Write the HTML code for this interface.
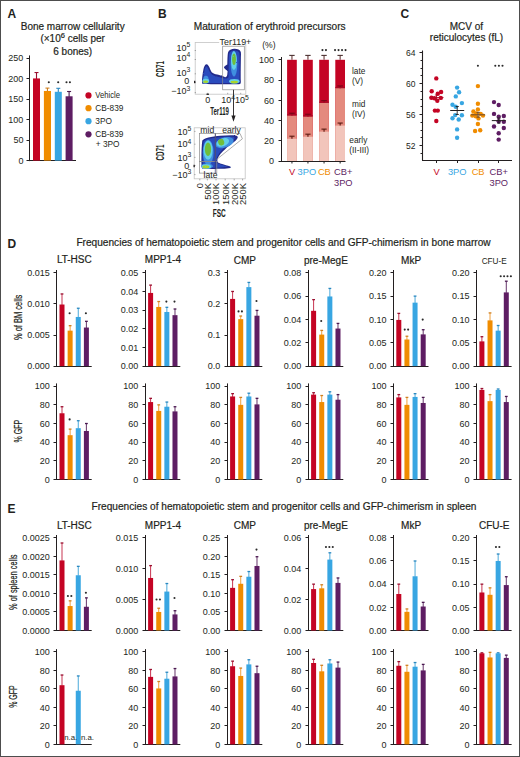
<!DOCTYPE html>
<html><head><meta charset="utf-8"><style>
html,body{margin:0;padding:0;background:#fff;}
svg{display:block;}
text{font-family:"Liberation Sans",sans-serif;}
</style></head><body>
<svg width="520" height="757" viewBox="0 0 520 757">
<rect width="520" height="757" fill="#fff"/>
<defs><filter id="fb" x="-20%" y="-20%" width="140%" height="140%"><feTurbulence type="fractalNoise" baseFrequency="0.9" numOctaves="2" seed="3" result="n"/><feDisplacementMap in="SourceGraphic" in2="n" scale="1.6" xChannelSelector="R" yChannelSelector="G" result="d"/><feGaussianBlur in="d" stdDeviation="0.4"/></filter><filter id="fb2" x="-30%" y="-30%" width="160%" height="160%"><feGaussianBlur stdDeviation="0.7"/></filter></defs>
<rect x="195.2" y="42.4" width="50.6" height="51.8" fill="none" stroke="#c4c4c4" stroke-width="0.8"/>
<g filter="url(#fb)">
<path fill="#222c8c" d="M202.2,83.8 C201.6,80 202.6,74 203.4,69.5 C204,66.6 204.9,64.6 206.3,64.2 C207.4,64 208,64.9 208.8,66.2 C209.7,67.8 210.6,70.3 211.7,72.2 C213.1,73.5 215.1,74.1 217.3,74.6 C220,75.3 222.8,76.2 224.6,77 C225.8,77.6 226.9,76.8 227.3,74.5 L227.6,71.2 C226.6,70 224.6,68.6 223.9,67.4 C224.2,65.8 226.3,65.4 227.3,64.5 C227.4,60 227.5,55 228,52.4 C228.8,50 231.5,48.8 234.5,48.8 C237.5,48.8 240.2,49.8 240.8,52 C241.1,54 241,55 240.9,57 C240.8,64 240.7,72 240.7,79 C240.8,81.5 241.2,83 240.2,83.9 C236,84.4 230,84.2 226,84.2 C218,84.2 208,84.5 202.2,83.8 Z"/>
<path fill="#2c4cbd" d="M203.5,82.8 C203,79 203.8,74 204.5,70.5 C205,68 205.7,66.6 206.5,66.5 C207.3,66.6 208,68.3 209,70.5 C210,72.6 211.2,74.2 213.6,75.4 C216.5,76.6 220.5,77.4 224.4,78.4 C226.2,78.9 227.7,78.6 228.6,77 C228.8,70 228.6,60 229.1,54 C229.6,51.6 231.8,50.4 234.4,50.4 C237,50.4 238.9,51.2 239.4,53 C239.8,55 239.6,68 239.5,82.8 C234,83.2 226,83.1 218,83.1 C212,83.1 207,83.1 203.5,82.8 Z"/>
<ellipse cx="234" cy="64" rx="3.3" ry="12.5" fill="#3f8fe0"/>
<ellipse cx="205.9" cy="79.6" rx="2.7" ry="3.8" fill="#3f8fe0"/>
<ellipse cx="233.9" cy="60.5" rx="2.9" ry="9.5" fill="#63cfe8"/>
<ellipse cx="234.3" cy="81.3" rx="5.2" ry="2.3" fill="#63cfe8"/>
<ellipse cx="205.8" cy="81" rx="3.4" ry="2.3" fill="#63cfe8"/>
<ellipse cx="234" cy="59.3" rx="1.9" ry="5.8" fill="#6fbe3a"/>
<ellipse cx="234.3" cy="82.1" rx="3.7" ry="1.3" fill="#a9d52a"/>
<ellipse cx="205.6" cy="81.8" rx="2.5" ry="1.3" fill="#a9d52a"/>
</g>
<rect x="222.7" y="46.2" width="21.6" height="43.6" fill="none" stroke="#8a8a8a" stroke-width="0.7"/>
<rect x="219.2" y="37.5" width="33" height="6.5" fill="#fff"/>
<text x="219.6" y="44.7" font-size="8.9" text-anchor="start" fill="#231f20" >Ter119+</text>
<line x1="194.7" y1="50.5" x2="196" y2="50.5" stroke="#777" stroke-width="0.6"/>
<line x1="194.7" y1="59.5" x2="196" y2="59.5" stroke="#777" stroke-width="0.6"/>
<line x1="194.7" y1="73.8" x2="196" y2="73.8" stroke="#777" stroke-width="0.6"/>
<line x1="194.7" y1="82.3" x2="196" y2="82.3" stroke="#777" stroke-width="0.6"/>
<line x1="194.7" y1="92.6" x2="196" y2="92.6" stroke="#777" stroke-width="0.6"/>
<rect x="194" y="80.8" width="1.3" height="2.4" fill="#231f20"/>
<line x1="207.7" y1="94.2" x2="207.7" y2="92.8" stroke="#777" stroke-width="0.6"/>
<line x1="227.7" y1="94.2" x2="227.7" y2="92.8" stroke="#777" stroke-width="0.6"/>
<line x1="240.7" y1="94.2" x2="240.7" y2="92.8" stroke="#777" stroke-width="0.6"/>
<rect x="206.5" y="93.6" width="2.4" height="1.3" fill="#231f20"/>
<text x="190.2" y="51.2" font-size="9" text-anchor="end" fill="#231f20">10<tspan font-size="6.8" dy="-3.8">5</tspan></text>
<text x="190.2" y="61" font-size="9" text-anchor="end" fill="#231f20">10<tspan font-size="6.8" dy="-3.8">4</tspan></text>
<text x="190.2" y="75.6" font-size="9" text-anchor="end" fill="#231f20">10<tspan font-size="6.8" dy="-3.8">3</tspan></text>
<text x="189.2" y="83.6" font-size="9" text-anchor="end" fill="#231f20" >0</text>
<text x="190.2" y="94.4" font-size="9" text-anchor="end" fill="#231f20">−10<tspan font-size="6.8" dy="-3.8">3</tspan></text>
<text x="207.8" y="103.4" font-size="9" text-anchor="middle" fill="#231f20" >0</text>
<text x="221.2" y="103.4" font-size="9" text-anchor="start" fill="#231f20">10<tspan font-size="6.8" dy="-3.8">4</tspan></text>
<text x="235.1" y="103.4" font-size="9" text-anchor="start" fill="#231f20">10<tspan font-size="6.8" dy="-3.8">5</tspan></text>
<text x="219.6" y="114.6" font-size="10" font-weight="bold" text-anchor="middle" fill="#231f20" textLength="18.8" lengthAdjust="spacingAndGlyphs">Ter119</text>
<line x1="233.5" y1="89.8" x2="233.5" y2="117" stroke="#231f20" stroke-width="0.9"/>
<path d="M231.4,115.6 L235.6,115.6 L233.5,121.7 Z" fill="#231f20"/>
<text x="0" y="0" font-size="10" font-weight="bold" text-anchor="middle" fill="#231f20" textLength="15.9" lengthAdjust="spacingAndGlyphs" transform="translate(164,69) rotate(-90)">CD71</text>
<rect x="194.2" y="127.8" width="51" height="51" fill="none" stroke="#c4c4c4" stroke-width="0.8"/>
<g filter="url(#fb)">
<path fill="#222c8c" d="M202.3,140.6 C204,138.2 207.5,137.4 211,136.9 C216,136 224,135.4 231,135.3 C234.5,135.3 237.6,135.6 237.8,137.2 C237.6,139.2 234.6,141.6 232,143.6 C229.5,145.6 227.2,147.4 225.4,148.9 C223.4,150.7 221.8,152.2 220.6,153.7 C219.2,155.4 218.2,157 217.6,158.8 C217.2,160.2 217.2,161.6 218,162.4 C220.5,163.6 225,164.8 229,166 C231,166.6 231.4,167.4 230.2,168 C226,168.8 219,168.9 212,168.9 C207,168.9 204,168.9 202,168.6 C201.4,166 201.3,162 201.4,158 C201.5,152 201.6,145 202.3,140.6 Z"/>
<path fill="#2c4cbd" d="M203.4,141.8 C205,139.6 208.5,138.8 212,138.3 C217,137.4 224,136.8 230,136.8 C233,136.8 235,137.1 234.6,138.6 C233.2,140.6 230.6,142.6 228,144.6 C225,147 222.5,149.4 220.6,151.6 C218.6,154 217.2,156.5 216.6,159 C216.3,160.8 216.6,162.3 217.6,163.2 C220.5,164.6 224.4,165.4 227.6,166.6 C224,167.6 218,167.8 212,167.8 C208,167.8 205,167.8 203,167.6 C202.6,162 202.6,150 203.4,141.8 Z"/>
<ellipse cx="208.2" cy="152.5" rx="5.4" ry="12.5" fill="#3f8fe0"/>
<ellipse cx="224.5" cy="142.6" rx="9.5" ry="5.0" fill="#3f8fe0" transform="rotate(-18 224.5 142.6)"/>
<ellipse cx="207" cy="166.2" rx="5.8" ry="2.7" fill="#3f8fe0"/>
<ellipse cx="208.1" cy="150.2" rx="4.5" ry="9.6" fill="#63cfe8"/>
<ellipse cx="222.8" cy="142.4" rx="6.6" ry="3.9" fill="#63cfe8" transform="rotate(-22 222.8 142.4)"/>
<ellipse cx="206.4" cy="166.4" rx="4.7" ry="2.2" fill="#63cfe8"/>
<ellipse cx="208" cy="149.2" rx="3.1" ry="6.8" fill="#6fbe3a"/>
<ellipse cx="221.2" cy="142.2" rx="3.0" ry="3.3" fill="#6fbe3a" transform="rotate(-20 221.2 142.2)"/>
<ellipse cx="205.9" cy="166.8" rx="3.5" ry="1.6" fill="#a9d52a"/>
</g>
<rect x="199.4" y="133.5" width="15.9" height="28" fill="none" stroke="#8a8a8a" stroke-width="0.7"/>
<rect x="199.4" y="161.5" width="17.4" height="11.6" fill="none" stroke="#8a8a8a" stroke-width="0.7"/>
<path d="M215.3,133.5 L240,133.5 L242.4,138.8 L216.6,159.5" fill="none" stroke="#8a8a8a" stroke-width="0.7"/>
<line x1="215.3" y1="133.5" x2="215.3" y2="173" stroke="#33336a" stroke-width="0.7"/>
<text x="207.3" y="132.8" font-size="8.6" text-anchor="middle" fill="#231f20" >mid</text>
<text x="231.5" y="132.8" font-size="8.6" text-anchor="middle" fill="#231f20" >early</text>
<text x="210.5" y="177.9" font-size="8.6" text-anchor="middle" fill="#231f20" >late</text>
<line x1="194.2" y1="131.4" x2="195.5" y2="131.4" stroke="#777" stroke-width="0.6"/>
<line x1="194.2" y1="144.2" x2="195.5" y2="144.2" stroke="#777" stroke-width="0.6"/>
<line x1="194.2" y1="157.4" x2="195.5" y2="157.4" stroke="#777" stroke-width="0.6"/>
<line x1="194.2" y1="165.5" x2="195.5" y2="165.5" stroke="#777" stroke-width="0.6"/>
<line x1="194.2" y1="174.6" x2="195.5" y2="174.6" stroke="#777" stroke-width="0.6"/>
<rect x="193.5" y="164.8" width="1.3" height="2.4" fill="#231f20"/>
<text x="191.3" y="134.6" font-size="9" text-anchor="end" fill="#231f20">10<tspan font-size="6.8" dy="-3.8">5</tspan></text>
<text x="191.3" y="147.4" font-size="9" text-anchor="end" fill="#231f20">10<tspan font-size="6.8" dy="-3.8">4</tspan></text>
<text x="191.3" y="160.6" font-size="9" text-anchor="end" fill="#231f20">10<tspan font-size="6.8" dy="-3.8">3</tspan></text>
<text x="189.2" y="168.7" font-size="9" text-anchor="end" fill="#231f20" >0</text>
<text x="191.3" y="178.2" font-size="9" text-anchor="end" fill="#231f20">−10<tspan font-size="6.8" dy="-3.8">3</tspan></text>
<text x="0" y="0" font-size="9.4" text-anchor="end" fill="#231f20" transform="translate(203.10,183.0) rotate(-90)">0</text>
<line x1="199.8" y1="178.8" x2="199.8" y2="180.4" stroke="#777" stroke-width="0.6"/>
<text x="0" y="0" font-size="9.4" text-anchor="end" fill="#231f20" transform="translate(210.70,183.0) rotate(-90)">50K</text>
<line x1="207.4" y1="178.8" x2="207.4" y2="180.4" stroke="#777" stroke-width="0.6"/>
<text x="0" y="0" font-size="9.4" text-anchor="end" fill="#231f20" transform="translate(219.30,183.0) rotate(-90)">100K</text>
<line x1="216" y1="178.8" x2="216" y2="180.4" stroke="#777" stroke-width="0.6"/>
<text x="0" y="0" font-size="9.4" text-anchor="end" fill="#231f20" transform="translate(228.50,183.0) rotate(-90)">150K</text>
<line x1="225.2" y1="178.8" x2="225.2" y2="180.4" stroke="#777" stroke-width="0.6"/>
<text x="0" y="0" font-size="9.4" text-anchor="end" fill="#231f20" transform="translate(237.50,183.0) rotate(-90)">200K</text>
<line x1="234.2" y1="178.8" x2="234.2" y2="180.4" stroke="#777" stroke-width="0.6"/>
<text x="0" y="0" font-size="9.4" text-anchor="end" fill="#231f20" transform="translate(245.90,183.0) rotate(-90)">250K</text>
<line x1="242.6" y1="178.8" x2="242.6" y2="180.4" stroke="#777" stroke-width="0.6"/>
<text x="219.3" y="216.9" font-size="10" font-weight="bold" text-anchor="middle" fill="#231f20" textLength="13" lengthAdjust="spacingAndGlyphs">FSC</text>
<text x="0" y="0" font-size="10" font-weight="bold" text-anchor="middle" fill="#231f20" textLength="15.9" lengthAdjust="spacingAndGlyphs" transform="translate(164,152.5) rotate(-90)">CD71</text>
<rect x="0.5" y="0.5" width="519" height="756" fill="none" stroke="#4d4d4d" stroke-width="1"/>
<text x="7.50" y="18.00" font-size="12" text-anchor="start" fill="#231f20" font-weight="bold" >A</text>
<text x="72.70" y="29.50" font-size="10" text-anchor="middle" fill="#231f20" stroke="#231f20" stroke-width="0.2" >Bone marrow cellularity</text>
<text x="72.70" y="42.00" font-size="10" text-anchor="middle" fill="#231f20" stroke="#231f20" stroke-width="0.2" >(×10<tspan font-size="7.5" dy="-4">6</tspan><tspan dy="4"> cells per</tspan></text>
<text x="72.70" y="54.50" font-size="10" text-anchor="middle" fill="#231f20" stroke="#231f20" stroke-width="0.2" >6 bones)</text>
<line x1="29.50" y1="55.40" x2="29.50" y2="161.10" stroke="#231f20" stroke-width="1.05"/>
<line x1="26.50" y1="58.50" x2="29.50" y2="58.50" stroke="#231f20" stroke-width="1.0"/>
<text x="23.40" y="61.44" font-size="9" text-anchor="end" fill="#231f20" >250</text>
<line x1="26.50" y1="78.50" x2="29.50" y2="78.50" stroke="#231f20" stroke-width="1.0"/>
<text x="23.40" y="81.92" font-size="9" text-anchor="end" fill="#231f20" >200</text>
<line x1="26.50" y1="99.50" x2="29.50" y2="99.50" stroke="#231f20" stroke-width="1.0"/>
<text x="23.40" y="102.40" font-size="9" text-anchor="end" fill="#231f20" >150</text>
<line x1="26.50" y1="119.50" x2="29.50" y2="119.50" stroke="#231f20" stroke-width="1.0"/>
<text x="23.40" y="122.88" font-size="9" text-anchor="end" fill="#231f20" >100</text>
<line x1="26.50" y1="140.50" x2="29.50" y2="140.50" stroke="#231f20" stroke-width="1.0"/>
<text x="23.40" y="143.36" font-size="9" text-anchor="end" fill="#231f20" >50</text>
<line x1="26.50" y1="160.50" x2="29.50" y2="160.50" stroke="#231f20" stroke-width="1.0"/>
<text x="23.40" y="163.84" font-size="9" text-anchor="end" fill="#231f20" >0</text>
<line x1="27.00" y1="160.50" x2="76.00" y2="160.50" stroke="#231f20" stroke-width="1.1"/>
<line x1="36.50" y1="72.54" x2="36.50" y2="79.43" stroke="#9a1030" stroke-width="1.1"/>
<line x1="34.50" y1="72.54" x2="38.50" y2="72.54" stroke="#9a1030" stroke-width="1.1"/>
<rect x="33.00" y="78.43" width="7.00" height="82.17" fill="#c40424"/>
<line x1="47.45" y1="88.10" x2="47.45" y2="91.97" stroke="#d08020" stroke-width="1.1"/>
<line x1="45.45" y1="88.10" x2="49.45" y2="88.10" stroke="#d08020" stroke-width="1.1"/>
<rect x="43.90" y="90.97" width="7.10" height="69.63" fill="#f08c00"/>
<line x1="58.30" y1="88.31" x2="58.30" y2="92.79" stroke="#2a88c0" stroke-width="1.1"/>
<line x1="56.30" y1="88.31" x2="60.30" y2="88.31" stroke="#2a88c0" stroke-width="1.1"/>
<rect x="54.80" y="91.79" width="7.00" height="68.81" fill="#38a6e2"/>
<line x1="69.10" y1="91.50" x2="69.10" y2="97.29" stroke="#4a1850" stroke-width="1.1"/>
<line x1="67.10" y1="91.50" x2="71.10" y2="91.50" stroke="#4a1850" stroke-width="1.1"/>
<rect x="65.60" y="96.29" width="7.00" height="64.31" fill="#5e1d63"/>
<circle cx="48.80" cy="82.20" r="1.05" fill="#2a2a2a"/>
<circle cx="58.20" cy="82.20" r="1.05" fill="#2a2a2a"/>
<circle cx="66.50" cy="82.20" r="1.05" fill="#2a2a2a"/>
<circle cx="69.90" cy="82.20" r="1.05" fill="#2a2a2a"/>
<circle cx="88.50" cy="95.40" r="3.1" fill="#c40424"/>
<text x="95.30" y="98.30" font-size="8.3" text-anchor="start" fill="#231f20" textLength="24.8" lengthAdjust="spacingAndGlyphs">Vehicle</text>
<circle cx="88.50" cy="108.20" r="3.1" fill="#f08c00"/>
<text x="95.30" y="111.10" font-size="8.3" text-anchor="start" fill="#231f20" >CB-839</text>
<circle cx="88.50" cy="121.20" r="3.1" fill="#38a6e2"/>
<text x="95.30" y="124.10" font-size="8.3" text-anchor="start" fill="#231f20" >3PO</text>
<circle cx="88.50" cy="134.30" r="3.1" fill="#5e1d63"/>
<text x="95.30" y="137.20" font-size="8.3" text-anchor="start" fill="#231f20" >CB-839</text>
<text x="95.80" y="147.00" font-size="8.3" text-anchor="start" fill="#231f20" >+ 3PO</text>
<text x="158.00" y="18.00" font-size="12" text-anchor="start" fill="#231f20" font-weight="bold" >B</text>
<text x="269.70" y="30.30" font-size="10.15" text-anchor="middle" fill="#231f20" stroke="#231f20" stroke-width="0.2" >Maturation of erythroid precursors</text>
<line x1="281.50" y1="57.00" x2="281.50" y2="161.50" stroke="#231f20" stroke-width="1.05"/>
<line x1="278.50" y1="59.50" x2="281.50" y2="59.50" stroke="#231f20" stroke-width="1.0"/>
<text x="274.10" y="63.04" font-size="9" text-anchor="end" fill="#231f20" >100</text>
<line x1="278.50" y1="80.50" x2="281.50" y2="80.50" stroke="#231f20" stroke-width="1.0"/>
<text x="274.10" y="83.28" font-size="9" text-anchor="end" fill="#231f20" >80</text>
<line x1="278.50" y1="100.50" x2="281.50" y2="100.50" stroke="#231f20" stroke-width="1.0"/>
<text x="274.10" y="103.52" font-size="9" text-anchor="end" fill="#231f20" >60</text>
<line x1="278.50" y1="120.50" x2="281.50" y2="120.50" stroke="#231f20" stroke-width="1.0"/>
<text x="274.10" y="123.76" font-size="9" text-anchor="end" fill="#231f20" >40</text>
<line x1="278.50" y1="140.50" x2="281.50" y2="140.50" stroke="#231f20" stroke-width="1.0"/>
<text x="274.10" y="144.00" font-size="9" text-anchor="end" fill="#231f20" >20</text>
<line x1="278.50" y1="161.50" x2="281.50" y2="161.50" stroke="#231f20" stroke-width="1.0"/>
<text x="274.10" y="164.24" font-size="9" text-anchor="end" fill="#231f20" >0</text>
<line x1="281.00" y1="161.50" x2="345.50" y2="161.50" stroke="#231f20" stroke-width="1.1"/>
<text x="268.90" y="48.00" font-size="8.6" text-anchor="middle" fill="#231f20" >(%)</text>
<rect x="287.10" y="59.80" width="9.70" height="101.20" fill="#c40424"/>
<rect x="287.10" y="115.46" width="9.70" height="45.54" fill="#e48a7e"/>
<rect x="287.10" y="138.74" width="9.70" height="22.26" fill="#f2c5bb"/>
<line x1="291.95" y1="55.40" x2="291.95" y2="59.80" stroke="#6a3a3a" stroke-width="1.1"/>
<line x1="289.25" y1="55.40" x2="294.65" y2="55.40" stroke="#4a3030" stroke-width="1.1"/>
<line x1="289.15" y1="113.26" x2="294.75" y2="113.26" stroke="#7a0818" stroke-width="1.2"/>
<line x1="291.95" y1="113.26" x2="291.95" y2="115.46" stroke="#7a0818" stroke-width="1.2"/>
<rect x="287.10" y="114.26" width="9.70" height="1.20" fill="#a80a26"/>
<line x1="289.35" y1="136.21" x2="294.55" y2="136.21" stroke="#5a1a10" stroke-width="1.1"/>
<line x1="291.95" y1="136.21" x2="291.95" y2="138.74" stroke="#5a1a10" stroke-width="1.1"/>
<line x1="291.95" y1="161.00" x2="291.95" y2="163.50" stroke="#231f20" stroke-width="1"/>
<rect x="303.10" y="59.80" width="9.70" height="101.20" fill="#c40424"/>
<rect x="303.10" y="116.47" width="9.70" height="44.53" fill="#e48a7e"/>
<rect x="303.10" y="136.71" width="9.70" height="24.29" fill="#f2c5bb"/>
<line x1="307.95" y1="55.40" x2="307.95" y2="59.80" stroke="#6a3a3a" stroke-width="1.1"/>
<line x1="305.25" y1="55.40" x2="310.65" y2="55.40" stroke="#4a3030" stroke-width="1.1"/>
<line x1="305.15" y1="114.27" x2="310.75" y2="114.27" stroke="#7a0818" stroke-width="1.2"/>
<line x1="307.95" y1="114.27" x2="307.95" y2="116.47" stroke="#7a0818" stroke-width="1.2"/>
<rect x="303.10" y="115.27" width="9.70" height="1.20" fill="#a80a26"/>
<line x1="305.35" y1="134.18" x2="310.55" y2="134.18" stroke="#5a1a10" stroke-width="1.1"/>
<line x1="307.95" y1="134.18" x2="307.95" y2="136.71" stroke="#5a1a10" stroke-width="1.1"/>
<line x1="307.95" y1="161.00" x2="307.95" y2="163.50" stroke="#231f20" stroke-width="1"/>
<rect x="319.20" y="59.80" width="9.70" height="101.20" fill="#c40424"/>
<rect x="319.20" y="102.81" width="9.70" height="58.19" fill="#e48a7e"/>
<rect x="319.20" y="131.65" width="9.70" height="29.35" fill="#f2c5bb"/>
<line x1="324.05" y1="55.40" x2="324.05" y2="59.80" stroke="#6a3a3a" stroke-width="1.1"/>
<line x1="321.35" y1="55.40" x2="326.75" y2="55.40" stroke="#4a3030" stroke-width="1.1"/>
<line x1="321.25" y1="100.61" x2="326.85" y2="100.61" stroke="#7a0818" stroke-width="1.2"/>
<line x1="324.05" y1="100.61" x2="324.05" y2="102.81" stroke="#7a0818" stroke-width="1.2"/>
<rect x="319.20" y="101.61" width="9.70" height="1.20" fill="#a80a26"/>
<line x1="321.45" y1="129.12" x2="326.65" y2="129.12" stroke="#5a1a10" stroke-width="1.1"/>
<line x1="324.05" y1="129.12" x2="324.05" y2="131.65" stroke="#5a1a10" stroke-width="1.1"/>
<line x1="324.05" y1="161.00" x2="324.05" y2="163.50" stroke="#231f20" stroke-width="1"/>
<rect x="335.30" y="59.80" width="9.70" height="101.20" fill="#c40424"/>
<rect x="335.30" y="88.14" width="9.70" height="72.86" fill="#e48a7e"/>
<rect x="335.30" y="125.58" width="9.70" height="35.42" fill="#f2c5bb"/>
<line x1="340.15" y1="55.40" x2="340.15" y2="59.80" stroke="#6a3a3a" stroke-width="1.1"/>
<line x1="337.45" y1="55.40" x2="342.85" y2="55.40" stroke="#4a3030" stroke-width="1.1"/>
<line x1="337.35" y1="85.94" x2="342.95" y2="85.94" stroke="#7a0818" stroke-width="1.2"/>
<line x1="340.15" y1="85.94" x2="340.15" y2="88.14" stroke="#7a0818" stroke-width="1.2"/>
<rect x="335.30" y="86.94" width="9.70" height="1.20" fill="#a80a26"/>
<line x1="337.55" y1="123.05" x2="342.75" y2="123.05" stroke="#5a1a10" stroke-width="1.1"/>
<line x1="340.15" y1="123.05" x2="340.15" y2="125.58" stroke="#5a1a10" stroke-width="1.1"/>
<line x1="340.15" y1="161.00" x2="340.15" y2="163.50" stroke="#231f20" stroke-width="1"/>
<circle cx="322.45" cy="50.10" r="1.05" fill="#2a2a2a"/>
<circle cx="325.95" cy="50.10" r="1.05" fill="#2a2a2a"/>
<circle cx="335.05" cy="50.10" r="1.05" fill="#2a2a2a"/>
<circle cx="338.55" cy="50.10" r="1.05" fill="#2a2a2a"/>
<circle cx="342.05" cy="50.10" r="1.05" fill="#2a2a2a"/>
<circle cx="345.55" cy="50.10" r="1.05" fill="#2a2a2a"/>
<text x="289.00" y="174.80" font-size="9.3" text-anchor="start" fill="#c40424" >V</text>
<text x="297.60" y="174.80" font-size="9.3" text-anchor="start" fill="#38a6e2" >3PO</text>
<text x="317.90" y="174.80" font-size="9.3" text-anchor="start" fill="#f08c00" >CB</text>
<text x="334.00" y="174.80" font-size="9.3" text-anchor="start" fill="#5e1d63" >CB+</text>
<text x="334.00" y="185.60" font-size="9.3" text-anchor="start" fill="#5e1d63" >3PO</text>
<text x="352.00" y="73.50" font-size="8.3" text-anchor="start" fill="#231f20" >late</text>
<text x="352.00" y="83.70" font-size="8.3" text-anchor="start" fill="#231f20" >(V)</text>
<text x="352.00" y="107.00" font-size="8.3" text-anchor="start" fill="#231f20" >mid</text>
<text x="352.00" y="117.00" font-size="8.3" text-anchor="start" fill="#231f20" >(IV)</text>
<text x="349.30" y="143.00" font-size="8.3" text-anchor="start" fill="#231f20" >early</text>
<text x="349.30" y="153.20" font-size="8.3" text-anchor="start" fill="#231f20" >(II-III)</text>
<text x="400.50" y="18.00" font-size="12" text-anchor="start" fill="#231f20" font-weight="bold" >C</text>
<text x="466.30" y="29.50" font-size="10" text-anchor="middle" fill="#231f20" stroke="#231f20" stroke-width="0.2" >MCV of</text>
<text x="466.50" y="41.30" font-size="10" text-anchor="middle" fill="#231f20" stroke="#231f20" stroke-width="0.2" >reticulocytes (fL)</text>
<line x1="422.50" y1="50.50" x2="422.50" y2="160.50" stroke="#231f20" stroke-width="1.1"/>
<line x1="422.00" y1="160.50" x2="512.00" y2="160.50" stroke="#231f20" stroke-width="1.1"/>
<line x1="420.50" y1="153.50" x2="422.50" y2="153.50" stroke="#231f20" stroke-width="1"/>
<line x1="419.50" y1="145.50" x2="422.50" y2="145.50" stroke="#231f20" stroke-width="1"/>
<line x1="420.50" y1="137.50" x2="422.50" y2="137.50" stroke="#231f20" stroke-width="1"/>
<line x1="420.50" y1="130.50" x2="422.50" y2="130.50" stroke="#231f20" stroke-width="1"/>
<line x1="420.50" y1="122.50" x2="422.50" y2="122.50" stroke="#231f20" stroke-width="1"/>
<line x1="419.50" y1="114.50" x2="422.50" y2="114.50" stroke="#231f20" stroke-width="1"/>
<line x1="420.50" y1="106.50" x2="422.50" y2="106.50" stroke="#231f20" stroke-width="1"/>
<line x1="420.50" y1="99.50" x2="422.50" y2="99.50" stroke="#231f20" stroke-width="1"/>
<line x1="420.50" y1="91.50" x2="422.50" y2="91.50" stroke="#231f20" stroke-width="1"/>
<line x1="419.50" y1="83.50" x2="422.50" y2="83.50" stroke="#231f20" stroke-width="1"/>
<line x1="420.50" y1="75.50" x2="422.50" y2="75.50" stroke="#231f20" stroke-width="1"/>
<line x1="420.50" y1="68.50" x2="422.50" y2="68.50" stroke="#231f20" stroke-width="1"/>
<line x1="420.50" y1="60.50" x2="422.50" y2="60.50" stroke="#231f20" stroke-width="1"/>
<line x1="419.50" y1="52.50" x2="422.50" y2="52.50" stroke="#231f20" stroke-width="1"/>
<text x="415.50" y="55.80" font-size="8.5" text-anchor="end" fill="#231f20" >64</text>
<text x="415.50" y="86.73" font-size="8.5" text-anchor="end" fill="#231f20" >60</text>
<text x="415.50" y="117.67" font-size="8.5" text-anchor="end" fill="#231f20" >56</text>
<text x="415.50" y="148.60" font-size="8.5" text-anchor="end" fill="#231f20" >52</text>
<line x1="436.50" y1="160.50" x2="436.50" y2="163.00" stroke="#231f20" stroke-width="1"/>
<line x1="457.50" y1="160.50" x2="457.50" y2="163.00" stroke="#231f20" stroke-width="1"/>
<line x1="478.50" y1="160.50" x2="478.50" y2="163.00" stroke="#231f20" stroke-width="1"/>
<line x1="498.50" y1="160.50" x2="498.50" y2="163.00" stroke="#231f20" stroke-width="1"/>
<text x="436.50" y="175.00" font-size="9.3" text-anchor="middle" fill="#c40424" >V</text>
<text x="457.20" y="175.00" font-size="9.3" text-anchor="middle" fill="#38a6e2" >3PO</text>
<text x="478.10" y="175.00" font-size="9.3" text-anchor="middle" fill="#f08c00" >CB</text>
<text x="498.80" y="175.00" font-size="9.3" text-anchor="middle" fill="#5e1d63" >CB+</text>
<text x="498.80" y="185.50" font-size="9.3" text-anchor="middle" fill="#5e1d63" >3PO</text>
<circle cx="436.30" cy="78.40" r="2.2" fill="#c40424"/>
<circle cx="431.70" cy="91.30" r="2.2" fill="#c40424"/>
<circle cx="441.10" cy="92.00" r="2.2" fill="#c40424"/>
<circle cx="437.80" cy="93.80" r="2.2" fill="#c40424"/>
<circle cx="431.40" cy="97.70" r="2.2" fill="#c40424"/>
<circle cx="434.40" cy="98.20" r="2.2" fill="#c40424"/>
<circle cx="440.80" cy="97.90" r="2.2" fill="#c40424"/>
<circle cx="437.30" cy="100.70" r="2.2" fill="#c40424"/>
<circle cx="434.90" cy="110.60" r="2.2" fill="#c40424"/>
<circle cx="437.80" cy="110.60" r="2.2" fill="#c40424"/>
<circle cx="436.30" cy="121.00" r="2.2" fill="#c40424"/>
<circle cx="457.10" cy="87.60" r="2.2" fill="#38a6e2"/>
<circle cx="459.10" cy="92.30" r="2.2" fill="#38a6e2"/>
<circle cx="455.80" cy="96.40" r="2.2" fill="#38a6e2"/>
<circle cx="461.90" cy="103.10" r="2.2" fill="#38a6e2"/>
<circle cx="452.50" cy="104.70" r="2.2" fill="#38a6e2"/>
<circle cx="455.70" cy="106.80" r="2.2" fill="#38a6e2"/>
<circle cx="455.20" cy="115.10" r="2.2" fill="#38a6e2"/>
<circle cx="461.90" cy="115.30" r="2.2" fill="#38a6e2"/>
<circle cx="452.50" cy="118.30" r="2.2" fill="#38a6e2"/>
<circle cx="458.70" cy="119.50" r="2.2" fill="#38a6e2"/>
<circle cx="457.10" cy="129.40" r="2.2" fill="#38a6e2"/>
<circle cx="457.10" cy="137.80" r="2.2" fill="#38a6e2"/>
<circle cx="477.90" cy="86.10" r="2.2" fill="#f08c00"/>
<circle cx="477.90" cy="103.80" r="2.2" fill="#f08c00"/>
<circle cx="477.90" cy="109.40" r="2.2" fill="#f08c00"/>
<circle cx="473.40" cy="111.50" r="2.2" fill="#f08c00"/>
<circle cx="476.20" cy="113.40" r="2.2" fill="#f08c00"/>
<circle cx="480.70" cy="113.90" r="2.2" fill="#f08c00"/>
<circle cx="472.30" cy="115.60" r="2.2" fill="#f08c00"/>
<circle cx="475.70" cy="116.20" r="2.2" fill="#f08c00"/>
<circle cx="483.00" cy="115.60" r="2.2" fill="#f08c00"/>
<circle cx="478.50" cy="118.40" r="2.2" fill="#f08c00"/>
<circle cx="477.90" cy="124.00" r="2.2" fill="#f08c00"/>
<circle cx="475.10" cy="131.00" r="2.2" fill="#f08c00"/>
<circle cx="480.20" cy="130.20" r="2.2" fill="#f08c00"/>
<circle cx="494.00" cy="102.10" r="2.2" fill="#5e1d63"/>
<circle cx="498.70" cy="105.00" r="2.2" fill="#5e1d63"/>
<circle cx="494.00" cy="113.90" r="2.2" fill="#5e1d63"/>
<circle cx="498.70" cy="116.70" r="2.2" fill="#5e1d63"/>
<circle cx="503.80" cy="116.00" r="2.2" fill="#5e1d63"/>
<circle cx="498.70" cy="121.20" r="2.2" fill="#5e1d63"/>
<circle cx="503.80" cy="121.80" r="2.2" fill="#5e1d63"/>
<circle cx="494.00" cy="126.50" r="2.2" fill="#5e1d63"/>
<circle cx="503.80" cy="128.00" r="2.2" fill="#5e1d63"/>
<circle cx="498.70" cy="133.30" r="2.2" fill="#5e1d63"/>
<circle cx="498.70" cy="139.60" r="2.2" fill="#5e1d63"/>
<line x1="429.50" y1="97.60" x2="443.50" y2="97.60" stroke="#b00c28" stroke-width="1"/>
<line x1="436.50" y1="95.00" x2="436.50" y2="100.20" stroke="#b00c28" stroke-width="0.9"/>
<line x1="434.90" y1="95.00" x2="438.10" y2="95.00" stroke="#b00c28" stroke-width="0.9"/>
<line x1="434.90" y1="100.20" x2="438.10" y2="100.20" stroke="#b00c28" stroke-width="0.9"/>
<line x1="450.20" y1="110.50" x2="464.20" y2="110.50" stroke="#231f20" stroke-width="1"/>
<line x1="457.20" y1="106.50" x2="457.20" y2="114.50" stroke="#231f20" stroke-width="0.9"/>
<line x1="455.60" y1="106.50" x2="458.80" y2="106.50" stroke="#231f20" stroke-width="0.9"/>
<line x1="455.60" y1="114.50" x2="458.80" y2="114.50" stroke="#231f20" stroke-width="0.9"/>
<line x1="471.10" y1="114.80" x2="485.10" y2="114.80" stroke="#6a4a30" stroke-width="1"/>
<line x1="478.10" y1="112.40" x2="478.10" y2="117.20" stroke="#6a4a30" stroke-width="0.9"/>
<line x1="476.50" y1="112.40" x2="479.70" y2="112.40" stroke="#6a4a30" stroke-width="0.9"/>
<line x1="476.50" y1="117.20" x2="479.70" y2="117.20" stroke="#6a4a30" stroke-width="0.9"/>
<line x1="491.80" y1="120.60" x2="505.80" y2="120.60" stroke="#231f20" stroke-width="1"/>
<line x1="498.80" y1="118.00" x2="498.80" y2="123.20" stroke="#231f20" stroke-width="0.9"/>
<line x1="497.20" y1="118.00" x2="500.40" y2="118.00" stroke="#231f20" stroke-width="0.9"/>
<line x1="497.20" y1="123.20" x2="500.40" y2="123.20" stroke="#231f20" stroke-width="0.9"/>
<circle cx="477.90" cy="65.80" r="1.05" fill="#2a2a2a"/>
<circle cx="495.30" cy="65.80" r="1.05" fill="#2a2a2a"/>
<circle cx="498.90" cy="65.80" r="1.05" fill="#2a2a2a"/>
<circle cx="502.50" cy="65.80" r="1.05" fill="#2a2a2a"/>
<text x="7.50" y="247.50" font-size="12" text-anchor="start" fill="#231f20" font-weight="bold" >D</text>
<text x="283.50" y="246.20" font-size="10.13" text-anchor="middle" fill="#231f20" stroke="#231f20" stroke-width="0.2" >Frequencies of hematopoietic stem and progenitor cells and GFP-chimerism in bone marrow</text>
<text x="74.30" y="262.90" font-size="10" text-anchor="middle" fill="#231f20" stroke="#231f20" stroke-width="0.2" >LT-HSC</text>
<text x="162.90" y="263.40" font-size="10" text-anchor="middle" fill="#231f20" stroke="#231f20" stroke-width="0.2" >MPP1-4</text>
<text x="244.90" y="263.70" font-size="10" text-anchor="middle" fill="#231f20" stroke="#231f20" stroke-width="0.2" >CMP</text>
<text x="325.90" y="263.70" font-size="10" text-anchor="middle" fill="#231f20" stroke="#231f20" stroke-width="0.2" >pre-MegE</text>
<text x="411.10" y="263.60" font-size="10" text-anchor="middle" fill="#231f20" stroke="#231f20" stroke-width="0.2" >MkP</text>
<text x="494.20" y="263.80" font-size="8.2" text-anchor="middle" fill="#231f20" >CFU-E</text>
<line x1="56.50" y1="270.00" x2="56.50" y2="366.60" stroke="#231f20" stroke-width="1.05"/>
<line x1="53.50" y1="272.50" x2="56.50" y2="272.50" stroke="#231f20" stroke-width="1.0"/>
<text x="49.70" y="276.04" font-size="9" text-anchor="end" fill="#231f20" >0.015</text>
<line x1="53.50" y1="303.50" x2="56.50" y2="303.50" stroke="#231f20" stroke-width="1.0"/>
<text x="49.70" y="307.14" font-size="9" text-anchor="end" fill="#231f20" >0.010</text>
<line x1="53.50" y1="335.50" x2="56.50" y2="335.50" stroke="#231f20" stroke-width="1.0"/>
<text x="49.70" y="338.24" font-size="9" text-anchor="end" fill="#231f20" >0.005</text>
<line x1="53.50" y1="366.50" x2="56.50" y2="366.50" stroke="#231f20" stroke-width="1.0"/>
<text x="49.70" y="369.34" font-size="9" text-anchor="end" fill="#231f20" >0.000</text>
<line x1="54.00" y1="366.50" x2="91.70" y2="366.50" stroke="#231f20" stroke-width="1.1"/>
<line x1="62.00" y1="293.95" x2="62.00" y2="305.02" stroke="#c42a48" stroke-width="0.95"/>
<line x1="60.60" y1="293.95" x2="63.40" y2="293.95" stroke="#9a1030" stroke-width="1.3"/>
<rect x="59.50" y="304.52" width="5.00" height="61.58" fill="#c40424"/>
<line x1="70.13" y1="325.67" x2="70.13" y2="331.15" stroke="#f09a30" stroke-width="0.95"/>
<line x1="68.73" y1="325.67" x2="71.53" y2="325.67" stroke="#d08020" stroke-width="1.3"/>
<rect x="67.63" y="330.65" width="5.00" height="35.45" fill="#f08c00"/>
<line x1="78.26" y1="308.25" x2="78.26" y2="317.46" stroke="#40a4d8" stroke-width="0.95"/>
<line x1="76.86" y1="308.25" x2="79.66" y2="308.25" stroke="#2a88c0" stroke-width="1.3"/>
<rect x="75.76" y="316.96" width="5.00" height="49.14" fill="#38a6e2"/>
<line x1="86.39" y1="321.32" x2="86.39" y2="328.04" stroke="#5e2a62" stroke-width="0.95"/>
<line x1="84.99" y1="321.32" x2="87.79" y2="321.32" stroke="#4a1850" stroke-width="1.3"/>
<rect x="83.89" y="327.54" width="5.00" height="38.56" fill="#5e1d63"/>
<circle cx="69.63" cy="313.30" r="1.05" fill="#2a2a2a"/>
<circle cx="85.89" cy="313.30" r="1.05" fill="#2a2a2a"/>
<line x1="145.50" y1="270.00" x2="145.50" y2="366.60" stroke="#231f20" stroke-width="1.05"/>
<line x1="142.50" y1="272.50" x2="145.50" y2="272.50" stroke="#231f20" stroke-width="1.0"/>
<text x="138.30" y="276.04" font-size="9" text-anchor="end" fill="#231f20" >0.05</text>
<line x1="142.50" y1="291.50" x2="145.50" y2="291.50" stroke="#231f20" stroke-width="1.0"/>
<text x="138.30" y="294.70" font-size="9" text-anchor="end" fill="#231f20" >0.04</text>
<line x1="142.50" y1="310.50" x2="145.50" y2="310.50" stroke="#231f20" stroke-width="1.0"/>
<text x="138.30" y="313.36" font-size="9" text-anchor="end" fill="#231f20" >0.03</text>
<line x1="142.50" y1="328.50" x2="145.50" y2="328.50" stroke="#231f20" stroke-width="1.0"/>
<text x="138.30" y="332.02" font-size="9" text-anchor="end" fill="#231f20" >0.02</text>
<line x1="142.50" y1="347.50" x2="145.50" y2="347.50" stroke="#231f20" stroke-width="1.0"/>
<text x="138.30" y="350.68" font-size="9" text-anchor="end" fill="#231f20" >0.01</text>
<line x1="142.50" y1="366.50" x2="145.50" y2="366.50" stroke="#231f20" stroke-width="1.0"/>
<text x="138.30" y="369.34" font-size="9" text-anchor="end" fill="#231f20" >0.00</text>
<line x1="143.00" y1="366.50" x2="180.30" y2="366.50" stroke="#231f20" stroke-width="1.1"/>
<line x1="150.60" y1="285.12" x2="150.60" y2="293.45" stroke="#c42a48" stroke-width="0.95"/>
<line x1="149.20" y1="285.12" x2="152.00" y2="285.12" stroke="#9a1030" stroke-width="1.3"/>
<rect x="148.10" y="292.95" width="5.00" height="73.15" fill="#c40424"/>
<line x1="158.73" y1="301.54" x2="158.73" y2="307.45" stroke="#f09a30" stroke-width="0.95"/>
<line x1="157.33" y1="301.54" x2="160.13" y2="301.54" stroke="#d08020" stroke-width="1.3"/>
<rect x="156.23" y="306.95" width="5.00" height="59.15" fill="#f08c00"/>
<line x1="166.86" y1="307.32" x2="166.86" y2="312.49" stroke="#40a4d8" stroke-width="0.95"/>
<line x1="165.46" y1="307.32" x2="168.26" y2="307.32" stroke="#2a88c0" stroke-width="1.3"/>
<rect x="164.36" y="311.99" width="5.00" height="54.11" fill="#38a6e2"/>
<line x1="174.99" y1="309.00" x2="174.99" y2="315.66" stroke="#5e2a62" stroke-width="0.95"/>
<line x1="173.59" y1="309.00" x2="176.39" y2="309.00" stroke="#4a1850" stroke-width="1.3"/>
<rect x="172.49" y="315.16" width="5.00" height="50.94" fill="#5e1d63"/>
<circle cx="166.36" cy="301.60" r="1.05" fill="#2a2a2a"/>
<circle cx="174.49" cy="301.60" r="1.05" fill="#2a2a2a"/>
<line x1="227.50" y1="270.00" x2="227.50" y2="366.60" stroke="#231f20" stroke-width="1.05"/>
<line x1="224.50" y1="272.50" x2="227.50" y2="272.50" stroke="#231f20" stroke-width="1.0"/>
<text x="220.30" y="276.04" font-size="9" text-anchor="end" fill="#231f20" >0.3</text>
<line x1="224.50" y1="303.50" x2="227.50" y2="303.50" stroke="#231f20" stroke-width="1.0"/>
<text x="220.30" y="307.14" font-size="9" text-anchor="end" fill="#231f20" >0.2</text>
<line x1="224.50" y1="335.50" x2="227.50" y2="335.50" stroke="#231f20" stroke-width="1.0"/>
<text x="220.30" y="338.24" font-size="9" text-anchor="end" fill="#231f20" >0.1</text>
<line x1="224.50" y1="366.50" x2="227.50" y2="366.50" stroke="#231f20" stroke-width="1.0"/>
<text x="220.30" y="369.34" font-size="9" text-anchor="end" fill="#231f20" >0.0</text>
<line x1="225.00" y1="366.50" x2="262.30" y2="366.50" stroke="#231f20" stroke-width="1.1"/>
<line x1="232.60" y1="291.46" x2="232.60" y2="299.42" stroke="#c42a48" stroke-width="0.95"/>
<line x1="231.20" y1="291.46" x2="234.00" y2="291.46" stroke="#9a1030" stroke-width="1.3"/>
<rect x="230.10" y="298.92" width="5.00" height="67.18" fill="#c40424"/>
<line x1="240.73" y1="316.03" x2="240.73" y2="319.64" stroke="#f09a30" stroke-width="0.95"/>
<line x1="239.33" y1="316.03" x2="242.13" y2="316.03" stroke="#d08020" stroke-width="1.3"/>
<rect x="238.23" y="319.14" width="5.00" height="46.96" fill="#f08c00"/>
<line x1="248.86" y1="282.44" x2="248.86" y2="287.61" stroke="#40a4d8" stroke-width="0.95"/>
<line x1="247.46" y1="282.44" x2="250.26" y2="282.44" stroke="#2a88c0" stroke-width="1.3"/>
<rect x="246.36" y="287.11" width="5.00" height="78.99" fill="#38a6e2"/>
<line x1="256.99" y1="310.43" x2="256.99" y2="316.22" stroke="#5e2a62" stroke-width="0.95"/>
<line x1="255.59" y1="310.43" x2="258.39" y2="310.43" stroke="#4a1850" stroke-width="1.3"/>
<rect x="254.49" y="315.72" width="5.00" height="50.38" fill="#5e1d63"/>
<circle cx="238.53" cy="311.40" r="1.05" fill="#2a2a2a"/>
<circle cx="241.93" cy="311.40" r="1.05" fill="#2a2a2a"/>
<circle cx="256.49" cy="301.00" r="1.05" fill="#2a2a2a"/>
<line x1="308.50" y1="270.00" x2="308.50" y2="366.60" stroke="#231f20" stroke-width="1.05"/>
<line x1="305.50" y1="272.50" x2="308.50" y2="272.50" stroke="#231f20" stroke-width="1.0"/>
<text x="301.30" y="276.04" font-size="9" text-anchor="end" fill="#231f20" >0.08</text>
<line x1="305.50" y1="296.50" x2="308.50" y2="296.50" stroke="#231f20" stroke-width="1.0"/>
<text x="301.30" y="299.37" font-size="9" text-anchor="end" fill="#231f20" >0.06</text>
<line x1="305.50" y1="319.50" x2="308.50" y2="319.50" stroke="#231f20" stroke-width="1.0"/>
<text x="301.30" y="322.69" font-size="9" text-anchor="end" fill="#231f20" >0.04</text>
<line x1="305.50" y1="342.50" x2="308.50" y2="342.50" stroke="#231f20" stroke-width="1.0"/>
<text x="301.30" y="346.02" font-size="9" text-anchor="end" fill="#231f20" >0.02</text>
<line x1="305.50" y1="366.50" x2="308.50" y2="366.50" stroke="#231f20" stroke-width="1.0"/>
<text x="301.30" y="369.34" font-size="9" text-anchor="end" fill="#231f20" >0.00</text>
<line x1="306.00" y1="366.50" x2="343.30" y2="366.50" stroke="#231f20" stroke-width="1.1"/>
<line x1="313.60" y1="299.62" x2="313.60" y2="311.32" stroke="#c42a48" stroke-width="0.95"/>
<line x1="312.20" y1="299.62" x2="315.00" y2="299.62" stroke="#9a1030" stroke-width="1.3"/>
<rect x="311.10" y="310.82" width="5.00" height="55.28" fill="#c40424"/>
<line x1="321.73" y1="330.41" x2="321.73" y2="335.11" stroke="#f09a30" stroke-width="0.95"/>
<line x1="320.33" y1="330.41" x2="323.13" y2="330.41" stroke="#d08020" stroke-width="1.3"/>
<rect x="319.23" y="334.61" width="5.00" height="31.49" fill="#f08c00"/>
<line x1="329.86" y1="288.43" x2="329.86" y2="296.97" stroke="#40a4d8" stroke-width="0.95"/>
<line x1="328.46" y1="288.43" x2="331.26" y2="288.43" stroke="#2a88c0" stroke-width="1.3"/>
<rect x="327.36" y="296.47" width="5.00" height="69.63" fill="#38a6e2"/>
<line x1="337.99" y1="323.42" x2="337.99" y2="329.05" stroke="#5e2a62" stroke-width="0.95"/>
<line x1="336.59" y1="323.42" x2="339.39" y2="323.42" stroke="#4a1850" stroke-width="1.3"/>
<rect x="335.49" y="328.55" width="5.00" height="37.55" fill="#5e1d63"/>
<circle cx="321.23" cy="321.00" r="1.05" fill="#2a2a2a"/>
<line x1="393.50" y1="270.00" x2="393.50" y2="366.60" stroke="#231f20" stroke-width="1.05"/>
<line x1="390.50" y1="272.50" x2="393.50" y2="272.50" stroke="#231f20" stroke-width="1.0"/>
<text x="386.50" y="276.04" font-size="9" text-anchor="end" fill="#231f20" >0.20</text>
<line x1="390.50" y1="296.50" x2="393.50" y2="296.50" stroke="#231f20" stroke-width="1.0"/>
<text x="386.50" y="299.37" font-size="9" text-anchor="end" fill="#231f20" >0.15</text>
<line x1="390.50" y1="319.50" x2="393.50" y2="319.50" stroke="#231f20" stroke-width="1.0"/>
<text x="386.50" y="322.69" font-size="9" text-anchor="end" fill="#231f20" >0.10</text>
<line x1="390.50" y1="342.50" x2="393.50" y2="342.50" stroke="#231f20" stroke-width="1.0"/>
<text x="386.50" y="346.02" font-size="9" text-anchor="end" fill="#231f20" >0.05</text>
<line x1="390.50" y1="366.50" x2="393.50" y2="366.50" stroke="#231f20" stroke-width="1.0"/>
<text x="386.50" y="369.34" font-size="9" text-anchor="end" fill="#231f20" >0.00</text>
<line x1="391.00" y1="366.50" x2="428.50" y2="366.50" stroke="#231f20" stroke-width="1.1"/>
<line x1="398.80" y1="313.39" x2="398.80" y2="320.42" stroke="#c42a48" stroke-width="0.95"/>
<line x1="397.40" y1="313.39" x2="400.20" y2="313.39" stroke="#9a1030" stroke-width="1.3"/>
<rect x="396.30" y="319.92" width="5.00" height="46.18" fill="#c40424"/>
<line x1="406.93" y1="336.24" x2="406.93" y2="340.01" stroke="#f09a30" stroke-width="0.95"/>
<line x1="405.53" y1="336.24" x2="408.33" y2="336.24" stroke="#d08020" stroke-width="1.3"/>
<rect x="404.43" y="339.51" width="5.00" height="26.59" fill="#f08c00"/>
<line x1="415.06" y1="296.12" x2="415.06" y2="303.16" stroke="#40a4d8" stroke-width="0.95"/>
<line x1="413.66" y1="296.12" x2="416.46" y2="296.12" stroke="#2a88c0" stroke-width="1.3"/>
<rect x="412.56" y="302.66" width="5.00" height="63.44" fill="#38a6e2"/>
<line x1="423.19" y1="329.71" x2="423.19" y2="334.88" stroke="#5e2a62" stroke-width="0.95"/>
<line x1="421.79" y1="329.71" x2="424.59" y2="329.71" stroke="#4a1850" stroke-width="1.3"/>
<rect x="420.69" y="334.38" width="5.00" height="31.72" fill="#5e1d63"/>
<circle cx="404.73" cy="329.60" r="1.05" fill="#2a2a2a"/>
<circle cx="408.13" cy="329.60" r="1.05" fill="#2a2a2a"/>
<circle cx="422.69" cy="319.60" r="1.05" fill="#2a2a2a"/>
<line x1="476.50" y1="270.00" x2="476.50" y2="366.60" stroke="#231f20" stroke-width="1.05"/>
<line x1="473.50" y1="272.50" x2="476.50" y2="272.50" stroke="#231f20" stroke-width="1.0"/>
<text x="469.60" y="276.04" font-size="9" text-anchor="end" fill="#231f20" >0.20</text>
<line x1="473.50" y1="296.50" x2="476.50" y2="296.50" stroke="#231f20" stroke-width="1.0"/>
<text x="469.60" y="299.37" font-size="9" text-anchor="end" fill="#231f20" >0.15</text>
<line x1="473.50" y1="319.50" x2="476.50" y2="319.50" stroke="#231f20" stroke-width="1.0"/>
<text x="469.60" y="322.69" font-size="9" text-anchor="end" fill="#231f20" >0.10</text>
<line x1="473.50" y1="342.50" x2="476.50" y2="342.50" stroke="#231f20" stroke-width="1.0"/>
<text x="469.60" y="346.02" font-size="9" text-anchor="end" fill="#231f20" >0.05</text>
<line x1="473.50" y1="366.50" x2="476.50" y2="366.50" stroke="#231f20" stroke-width="1.0"/>
<text x="469.60" y="369.34" font-size="9" text-anchor="end" fill="#231f20" >0.00</text>
<line x1="474.00" y1="366.50" x2="511.60" y2="366.50" stroke="#231f20" stroke-width="1.1"/>
<line x1="481.90" y1="336.71" x2="481.90" y2="341.88" stroke="#c42a48" stroke-width="0.95"/>
<line x1="480.50" y1="336.71" x2="483.30" y2="336.71" stroke="#9a1030" stroke-width="1.3"/>
<rect x="479.40" y="341.38" width="5.00" height="24.72" fill="#c40424"/>
<line x1="490.03" y1="312.92" x2="490.03" y2="320.88" stroke="#f09a30" stroke-width="0.95"/>
<line x1="488.63" y1="312.92" x2="491.43" y2="312.92" stroke="#d08020" stroke-width="1.3"/>
<rect x="487.53" y="320.38" width="5.00" height="45.72" fill="#f08c00"/>
<line x1="498.16" y1="325.51" x2="498.16" y2="331.15" stroke="#40a4d8" stroke-width="0.95"/>
<line x1="496.76" y1="325.51" x2="499.56" y2="325.51" stroke="#2a88c0" stroke-width="1.3"/>
<rect x="495.66" y="330.65" width="5.00" height="35.45" fill="#38a6e2"/>
<line x1="506.29" y1="281.20" x2="506.29" y2="292.89" stroke="#5e2a62" stroke-width="0.95"/>
<line x1="504.89" y1="281.20" x2="507.69" y2="281.20" stroke="#4a1850" stroke-width="1.3"/>
<rect x="503.79" y="292.39" width="5.00" height="73.71" fill="#5e1d63"/>
<circle cx="500.69" cy="276.30" r="1.05" fill="#2a2a2a"/>
<circle cx="504.09" cy="276.30" r="1.05" fill="#2a2a2a"/>
<circle cx="507.49" cy="276.30" r="1.05" fill="#2a2a2a"/>
<circle cx="510.89" cy="276.30" r="1.05" fill="#2a2a2a"/>
<line x1="56.50" y1="383.40" x2="56.50" y2="480.00" stroke="#231f20" stroke-width="1.05"/>
<line x1="53.50" y1="386.50" x2="56.50" y2="386.50" stroke="#231f20" stroke-width="1.0"/>
<text x="49.70" y="389.44" font-size="9" text-anchor="end" fill="#231f20" >100</text>
<line x1="53.50" y1="404.50" x2="56.50" y2="404.50" stroke="#231f20" stroke-width="1.0"/>
<text x="49.70" y="408.10" font-size="9" text-anchor="end" fill="#231f20" >80</text>
<line x1="53.50" y1="423.50" x2="56.50" y2="423.50" stroke="#231f20" stroke-width="1.0"/>
<text x="49.70" y="426.76" font-size="9" text-anchor="end" fill="#231f20" >60</text>
<line x1="53.50" y1="442.50" x2="56.50" y2="442.50" stroke="#231f20" stroke-width="1.0"/>
<text x="49.70" y="445.42" font-size="9" text-anchor="end" fill="#231f20" >40</text>
<line x1="53.50" y1="460.50" x2="56.50" y2="460.50" stroke="#231f20" stroke-width="1.0"/>
<text x="49.70" y="464.08" font-size="9" text-anchor="end" fill="#231f20" >20</text>
<line x1="53.50" y1="479.50" x2="56.50" y2="479.50" stroke="#231f20" stroke-width="1.0"/>
<text x="49.70" y="482.74" font-size="9" text-anchor="end" fill="#231f20" >0</text>
<line x1="54.00" y1="479.50" x2="91.70" y2="479.50" stroke="#231f20" stroke-width="1.1"/>
<line x1="62.00" y1="406.73" x2="62.00" y2="413.76" stroke="#c42a48" stroke-width="0.95"/>
<line x1="60.60" y1="406.73" x2="63.40" y2="406.73" stroke="#9a1030" stroke-width="1.3"/>
<rect x="59.50" y="413.26" width="5.00" height="66.24" fill="#c40424"/>
<line x1="70.13" y1="429.12" x2="70.13" y2="435.68" stroke="#f09a30" stroke-width="0.95"/>
<line x1="68.73" y1="429.12" x2="71.53" y2="429.12" stroke="#d08020" stroke-width="1.3"/>
<rect x="67.63" y="435.18" width="5.00" height="44.32" fill="#f08c00"/>
<line x1="78.26" y1="420.72" x2="78.26" y2="428.69" stroke="#40a4d8" stroke-width="0.95"/>
<line x1="76.86" y1="420.72" x2="79.66" y2="420.72" stroke="#2a88c0" stroke-width="1.3"/>
<rect x="75.76" y="428.19" width="5.00" height="51.32" fill="#38a6e2"/>
<line x1="86.39" y1="423.52" x2="86.39" y2="431.48" stroke="#5e2a62" stroke-width="0.95"/>
<line x1="84.99" y1="423.52" x2="87.79" y2="423.52" stroke="#4a1850" stroke-width="1.3"/>
<rect x="83.89" y="430.98" width="5.00" height="48.52" fill="#5e1d63"/>
<circle cx="69.63" cy="419.40" r="1.05" fill="#2a2a2a"/>
<line x1="145.50" y1="383.40" x2="145.50" y2="480.00" stroke="#231f20" stroke-width="1.05"/>
<line x1="142.50" y1="386.50" x2="145.50" y2="386.50" stroke="#231f20" stroke-width="1.0"/>
<text x="138.30" y="389.44" font-size="9" text-anchor="end" fill="#231f20" >100</text>
<line x1="142.50" y1="404.50" x2="145.50" y2="404.50" stroke="#231f20" stroke-width="1.0"/>
<text x="138.30" y="408.10" font-size="9" text-anchor="end" fill="#231f20" >80</text>
<line x1="142.50" y1="423.50" x2="145.50" y2="423.50" stroke="#231f20" stroke-width="1.0"/>
<text x="138.30" y="426.76" font-size="9" text-anchor="end" fill="#231f20" >60</text>
<line x1="142.50" y1="442.50" x2="145.50" y2="442.50" stroke="#231f20" stroke-width="1.0"/>
<text x="138.30" y="445.42" font-size="9" text-anchor="end" fill="#231f20" >40</text>
<line x1="142.50" y1="460.50" x2="145.50" y2="460.50" stroke="#231f20" stroke-width="1.0"/>
<text x="138.30" y="464.08" font-size="9" text-anchor="end" fill="#231f20" >20</text>
<line x1="142.50" y1="479.50" x2="145.50" y2="479.50" stroke="#231f20" stroke-width="1.0"/>
<text x="138.30" y="482.74" font-size="9" text-anchor="end" fill="#231f20" >0</text>
<line x1="143.00" y1="479.50" x2="180.30" y2="479.50" stroke="#231f20" stroke-width="1.1"/>
<line x1="150.60" y1="398.33" x2="150.60" y2="402.56" stroke="#c42a48" stroke-width="0.95"/>
<line x1="149.20" y1="398.33" x2="152.00" y2="398.33" stroke="#9a1030" stroke-width="1.3"/>
<rect x="148.10" y="402.06" width="5.00" height="77.44" fill="#c40424"/>
<line x1="158.73" y1="404.86" x2="158.73" y2="411.42" stroke="#f09a30" stroke-width="0.95"/>
<line x1="157.33" y1="404.86" x2="160.13" y2="404.86" stroke="#d08020" stroke-width="1.3"/>
<rect x="156.23" y="410.92" width="5.00" height="68.58" fill="#f08c00"/>
<line x1="166.86" y1="402.06" x2="166.86" y2="407.23" stroke="#40a4d8" stroke-width="0.95"/>
<line x1="165.46" y1="402.06" x2="168.26" y2="402.06" stroke="#2a88c0" stroke-width="1.3"/>
<rect x="164.36" y="406.73" width="5.00" height="72.77" fill="#38a6e2"/>
<line x1="174.99" y1="406.73" x2="174.99" y2="411.89" stroke="#5e2a62" stroke-width="0.95"/>
<line x1="173.59" y1="406.73" x2="176.39" y2="406.73" stroke="#4a1850" stroke-width="1.3"/>
<rect x="172.49" y="411.39" width="5.00" height="68.11" fill="#5e1d63"/>
<line x1="227.50" y1="383.40" x2="227.50" y2="480.00" stroke="#231f20" stroke-width="1.05"/>
<line x1="224.50" y1="386.50" x2="227.50" y2="386.50" stroke="#231f20" stroke-width="1.0"/>
<text x="220.30" y="389.44" font-size="9" text-anchor="end" fill="#231f20" >100</text>
<line x1="224.50" y1="404.50" x2="227.50" y2="404.50" stroke="#231f20" stroke-width="1.0"/>
<text x="220.30" y="408.10" font-size="9" text-anchor="end" fill="#231f20" >80</text>
<line x1="224.50" y1="423.50" x2="227.50" y2="423.50" stroke="#231f20" stroke-width="1.0"/>
<text x="220.30" y="426.76" font-size="9" text-anchor="end" fill="#231f20" >60</text>
<line x1="224.50" y1="442.50" x2="227.50" y2="442.50" stroke="#231f20" stroke-width="1.0"/>
<text x="220.30" y="445.42" font-size="9" text-anchor="end" fill="#231f20" >40</text>
<line x1="224.50" y1="460.50" x2="227.50" y2="460.50" stroke="#231f20" stroke-width="1.0"/>
<text x="220.30" y="464.08" font-size="9" text-anchor="end" fill="#231f20" >20</text>
<line x1="224.50" y1="479.50" x2="227.50" y2="479.50" stroke="#231f20" stroke-width="1.0"/>
<text x="220.30" y="482.74" font-size="9" text-anchor="end" fill="#231f20" >0</text>
<line x1="225.00" y1="479.50" x2="262.30" y2="479.50" stroke="#231f20" stroke-width="1.1"/>
<line x1="232.60" y1="393.66" x2="232.60" y2="396.96" stroke="#c42a48" stroke-width="0.95"/>
<line x1="231.20" y1="393.66" x2="234.00" y2="393.66" stroke="#9a1030" stroke-width="1.3"/>
<rect x="230.10" y="396.46" width="5.00" height="83.04" fill="#c40424"/>
<line x1="240.73" y1="397.40" x2="240.73" y2="405.36" stroke="#f09a30" stroke-width="0.95"/>
<line x1="239.33" y1="397.40" x2="242.13" y2="397.40" stroke="#d08020" stroke-width="1.3"/>
<rect x="238.23" y="404.86" width="5.00" height="74.64" fill="#f08c00"/>
<line x1="248.86" y1="393.20" x2="248.86" y2="396.96" stroke="#40a4d8" stroke-width="0.95"/>
<line x1="247.46" y1="393.20" x2="250.26" y2="393.20" stroke="#2a88c0" stroke-width="1.3"/>
<rect x="246.36" y="396.46" width="5.00" height="83.04" fill="#38a6e2"/>
<line x1="256.99" y1="398.33" x2="256.99" y2="404.89" stroke="#5e2a62" stroke-width="0.95"/>
<line x1="255.59" y1="398.33" x2="258.39" y2="398.33" stroke="#4a1850" stroke-width="1.3"/>
<rect x="254.49" y="404.39" width="5.00" height="75.11" fill="#5e1d63"/>
<line x1="308.50" y1="383.40" x2="308.50" y2="480.00" stroke="#231f20" stroke-width="1.05"/>
<line x1="305.50" y1="386.50" x2="308.50" y2="386.50" stroke="#231f20" stroke-width="1.0"/>
<text x="301.30" y="389.44" font-size="9" text-anchor="end" fill="#231f20" >100</text>
<line x1="305.50" y1="404.50" x2="308.50" y2="404.50" stroke="#231f20" stroke-width="1.0"/>
<text x="301.30" y="408.10" font-size="9" text-anchor="end" fill="#231f20" >80</text>
<line x1="305.50" y1="423.50" x2="308.50" y2="423.50" stroke="#231f20" stroke-width="1.0"/>
<text x="301.30" y="426.76" font-size="9" text-anchor="end" fill="#231f20" >60</text>
<line x1="305.50" y1="442.50" x2="308.50" y2="442.50" stroke="#231f20" stroke-width="1.0"/>
<text x="301.30" y="445.42" font-size="9" text-anchor="end" fill="#231f20" >40</text>
<line x1="305.50" y1="460.50" x2="308.50" y2="460.50" stroke="#231f20" stroke-width="1.0"/>
<text x="301.30" y="464.08" font-size="9" text-anchor="end" fill="#231f20" >20</text>
<line x1="305.50" y1="479.50" x2="308.50" y2="479.50" stroke="#231f20" stroke-width="1.0"/>
<text x="301.30" y="482.74" font-size="9" text-anchor="end" fill="#231f20" >0</text>
<line x1="306.00" y1="479.50" x2="343.30" y2="479.50" stroke="#231f20" stroke-width="1.1"/>
<line x1="313.60" y1="392.73" x2="313.60" y2="395.10" stroke="#c42a48" stroke-width="0.95"/>
<line x1="312.20" y1="392.73" x2="315.00" y2="392.73" stroke="#9a1030" stroke-width="1.3"/>
<rect x="311.10" y="394.60" width="5.00" height="84.90" fill="#c40424"/>
<line x1="321.73" y1="395.53" x2="321.73" y2="402.56" stroke="#f09a30" stroke-width="0.95"/>
<line x1="320.33" y1="395.53" x2="323.13" y2="395.53" stroke="#d08020" stroke-width="1.3"/>
<rect x="319.23" y="402.06" width="5.00" height="77.44" fill="#f08c00"/>
<line x1="329.86" y1="391.80" x2="329.86" y2="395.10" stroke="#40a4d8" stroke-width="0.95"/>
<line x1="328.46" y1="391.80" x2="331.26" y2="391.80" stroke="#2a88c0" stroke-width="1.3"/>
<rect x="327.36" y="394.60" width="5.00" height="84.90" fill="#38a6e2"/>
<line x1="337.99" y1="394.60" x2="337.99" y2="400.23" stroke="#5e2a62" stroke-width="0.95"/>
<line x1="336.59" y1="394.60" x2="339.39" y2="394.60" stroke="#4a1850" stroke-width="1.3"/>
<rect x="335.49" y="399.73" width="5.00" height="79.77" fill="#5e1d63"/>
<line x1="393.50" y1="383.40" x2="393.50" y2="480.00" stroke="#231f20" stroke-width="1.05"/>
<line x1="390.50" y1="386.50" x2="393.50" y2="386.50" stroke="#231f20" stroke-width="1.0"/>
<text x="386.50" y="389.44" font-size="9" text-anchor="end" fill="#231f20" >100</text>
<line x1="390.50" y1="404.50" x2="393.50" y2="404.50" stroke="#231f20" stroke-width="1.0"/>
<text x="386.50" y="408.10" font-size="9" text-anchor="end" fill="#231f20" >80</text>
<line x1="390.50" y1="423.50" x2="393.50" y2="423.50" stroke="#231f20" stroke-width="1.0"/>
<text x="386.50" y="426.76" font-size="9" text-anchor="end" fill="#231f20" >60</text>
<line x1="390.50" y1="442.50" x2="393.50" y2="442.50" stroke="#231f20" stroke-width="1.0"/>
<text x="386.50" y="445.42" font-size="9" text-anchor="end" fill="#231f20" >40</text>
<line x1="390.50" y1="460.50" x2="393.50" y2="460.50" stroke="#231f20" stroke-width="1.0"/>
<text x="386.50" y="464.08" font-size="9" text-anchor="end" fill="#231f20" >20</text>
<line x1="390.50" y1="479.50" x2="393.50" y2="479.50" stroke="#231f20" stroke-width="1.0"/>
<text x="386.50" y="482.74" font-size="9" text-anchor="end" fill="#231f20" >0</text>
<line x1="391.00" y1="479.50" x2="428.50" y2="479.50" stroke="#231f20" stroke-width="1.1"/>
<line x1="398.80" y1="394.60" x2="398.80" y2="397.90" stroke="#c42a48" stroke-width="0.95"/>
<line x1="397.40" y1="394.60" x2="400.20" y2="394.60" stroke="#9a1030" stroke-width="1.3"/>
<rect x="396.30" y="397.40" width="5.00" height="82.10" fill="#c40424"/>
<line x1="406.93" y1="397.40" x2="406.93" y2="405.36" stroke="#f09a30" stroke-width="0.95"/>
<line x1="405.53" y1="397.40" x2="408.33" y2="397.40" stroke="#d08020" stroke-width="1.3"/>
<rect x="404.43" y="404.86" width="5.00" height="74.64" fill="#f08c00"/>
<line x1="415.06" y1="393.66" x2="415.06" y2="397.43" stroke="#40a4d8" stroke-width="0.95"/>
<line x1="413.66" y1="393.66" x2="416.46" y2="393.66" stroke="#2a88c0" stroke-width="1.3"/>
<rect x="412.56" y="396.93" width="5.00" height="82.57" fill="#38a6e2"/>
<line x1="423.19" y1="397.40" x2="423.19" y2="403.49" stroke="#5e2a62" stroke-width="0.95"/>
<line x1="421.79" y1="397.40" x2="424.59" y2="397.40" stroke="#4a1850" stroke-width="1.3"/>
<rect x="420.69" y="402.99" width="5.00" height="76.51" fill="#5e1d63"/>
<line x1="476.50" y1="383.40" x2="476.50" y2="480.00" stroke="#231f20" stroke-width="1.05"/>
<line x1="473.50" y1="386.50" x2="476.50" y2="386.50" stroke="#231f20" stroke-width="1.0"/>
<text x="469.60" y="389.44" font-size="9" text-anchor="end" fill="#231f20" >100</text>
<line x1="473.50" y1="404.50" x2="476.50" y2="404.50" stroke="#231f20" stroke-width="1.0"/>
<text x="469.60" y="408.10" font-size="9" text-anchor="end" fill="#231f20" >80</text>
<line x1="473.50" y1="423.50" x2="476.50" y2="423.50" stroke="#231f20" stroke-width="1.0"/>
<text x="469.60" y="426.76" font-size="9" text-anchor="end" fill="#231f20" >60</text>
<line x1="473.50" y1="442.50" x2="476.50" y2="442.50" stroke="#231f20" stroke-width="1.0"/>
<text x="469.60" y="445.42" font-size="9" text-anchor="end" fill="#231f20" >40</text>
<line x1="473.50" y1="460.50" x2="476.50" y2="460.50" stroke="#231f20" stroke-width="1.0"/>
<text x="469.60" y="464.08" font-size="9" text-anchor="end" fill="#231f20" >20</text>
<line x1="473.50" y1="479.50" x2="476.50" y2="479.50" stroke="#231f20" stroke-width="1.0"/>
<text x="469.60" y="482.74" font-size="9" text-anchor="end" fill="#231f20" >0</text>
<line x1="474.00" y1="479.50" x2="511.60" y2="479.50" stroke="#231f20" stroke-width="1.1"/>
<line x1="481.90" y1="388.53" x2="481.90" y2="390.43" stroke="#c42a48" stroke-width="0.95"/>
<line x1="480.50" y1="388.53" x2="483.30" y2="388.53" stroke="#9a1030" stroke-width="1.3"/>
<rect x="479.40" y="389.93" width="5.00" height="89.57" fill="#c40424"/>
<line x1="490.03" y1="394.60" x2="490.03" y2="401.63" stroke="#f09a30" stroke-width="0.95"/>
<line x1="488.63" y1="394.60" x2="491.43" y2="394.60" stroke="#d08020" stroke-width="1.3"/>
<rect x="487.53" y="401.13" width="5.00" height="78.37" fill="#f08c00"/>
<line x1="498.16" y1="389.00" x2="498.16" y2="390.43" stroke="#40a4d8" stroke-width="0.95"/>
<line x1="496.76" y1="389.00" x2="499.56" y2="389.00" stroke="#2a88c0" stroke-width="1.3"/>
<rect x="495.66" y="389.93" width="5.00" height="89.57" fill="#38a6e2"/>
<line x1="506.29" y1="396.46" x2="506.29" y2="402.56" stroke="#5e2a62" stroke-width="0.95"/>
<line x1="504.89" y1="396.46" x2="507.69" y2="396.46" stroke="#4a1850" stroke-width="1.3"/>
<rect x="503.79" y="402.06" width="5.00" height="77.44" fill="#5e1d63"/>
<text x="7.50" y="512.50" font-size="12" text-anchor="start" fill="#231f20" font-weight="bold" >E</text>
<text x="284.00" y="510.20" font-size="10.14" text-anchor="middle" fill="#231f20" stroke="#231f20" stroke-width="0.2" >Frequencies of hematopoietic stem and progenitor cells and GFP-chimerism in spleen</text>
<text x="74.30" y="528.60" font-size="10" text-anchor="middle" fill="#231f20" stroke="#231f20" stroke-width="0.2" >LT-HSC</text>
<text x="162.90" y="528.60" font-size="10" text-anchor="middle" fill="#231f20" stroke="#231f20" stroke-width="0.2" >MPP1-4</text>
<text x="244.90" y="528.60" font-size="10" text-anchor="middle" fill="#231f20" stroke="#231f20" stroke-width="0.2" >CMP</text>
<text x="325.90" y="528.60" font-size="10" text-anchor="middle" fill="#231f20" stroke="#231f20" stroke-width="0.2" >pre-MegE</text>
<text x="411.10" y="528.60" font-size="10" text-anchor="middle" fill="#231f20" stroke="#231f20" stroke-width="0.2" >MkP</text>
<text x="494.20" y="528.60" font-size="10" text-anchor="middle" fill="#231f20" stroke="#231f20" stroke-width="0.2" >CFU-E</text>
<line x1="56.50" y1="535.00" x2="56.50" y2="631.00" stroke="#231f20" stroke-width="1.05"/>
<line x1="53.50" y1="537.50" x2="56.50" y2="537.50" stroke="#231f20" stroke-width="1.0"/>
<text x="49.70" y="541.04" font-size="9" text-anchor="end" fill="#231f20" >0.0025</text>
<line x1="53.50" y1="556.50" x2="56.50" y2="556.50" stroke="#231f20" stroke-width="1.0"/>
<text x="49.70" y="559.58" font-size="9" text-anchor="end" fill="#231f20" >0.0020</text>
<line x1="53.50" y1="574.50" x2="56.50" y2="574.50" stroke="#231f20" stroke-width="1.0"/>
<text x="49.70" y="578.12" font-size="9" text-anchor="end" fill="#231f20" >0.0015</text>
<line x1="53.50" y1="593.50" x2="56.50" y2="593.50" stroke="#231f20" stroke-width="1.0"/>
<text x="49.70" y="596.66" font-size="9" text-anchor="end" fill="#231f20" >0.0010</text>
<line x1="53.50" y1="611.50" x2="56.50" y2="611.50" stroke="#231f20" stroke-width="1.0"/>
<text x="49.70" y="615.20" font-size="9" text-anchor="end" fill="#231f20" >0.0005</text>
<line x1="53.50" y1="630.50" x2="56.50" y2="630.50" stroke="#231f20" stroke-width="1.0"/>
<text x="49.70" y="633.74" font-size="9" text-anchor="end" fill="#231f20" >0.0000</text>
<line x1="54.00" y1="630.50" x2="91.70" y2="630.50" stroke="#231f20" stroke-width="1.1"/>
<line x1="62.00" y1="542.99" x2="62.00" y2="560.92" stroke="#c42a48" stroke-width="0.95"/>
<line x1="60.60" y1="542.99" x2="63.40" y2="542.99" stroke="#9a1030" stroke-width="1.3"/>
<rect x="59.50" y="560.42" width="5.00" height="70.08" fill="#c40424"/>
<line x1="70.13" y1="600.84" x2="70.13" y2="606.53" stroke="#f09a30" stroke-width="0.95"/>
<line x1="68.73" y1="600.84" x2="71.53" y2="600.84" stroke="#d08020" stroke-width="1.3"/>
<rect x="67.63" y="606.03" width="5.00" height="24.47" fill="#f08c00"/>
<line x1="78.26" y1="566.35" x2="78.26" y2="575.75" stroke="#40a4d8" stroke-width="0.95"/>
<line x1="76.86" y1="566.35" x2="79.66" y2="566.35" stroke="#2a88c0" stroke-width="1.3"/>
<rect x="75.76" y="575.25" width="5.00" height="55.25" fill="#38a6e2"/>
<line x1="86.39" y1="597.87" x2="86.39" y2="607.27" stroke="#5e2a62" stroke-width="0.95"/>
<line x1="84.99" y1="597.87" x2="87.79" y2="597.87" stroke="#4a1850" stroke-width="1.3"/>
<rect x="83.89" y="606.77" width="5.00" height="23.73" fill="#5e1d63"/>
<circle cx="67.93" cy="596.00" r="1.05" fill="#2a2a2a"/>
<circle cx="71.33" cy="596.00" r="1.05" fill="#2a2a2a"/>
<circle cx="85.89" cy="592.70" r="1.05" fill="#2a2a2a"/>
<line x1="145.50" y1="535.00" x2="145.50" y2="631.00" stroke="#231f20" stroke-width="1.05"/>
<line x1="142.50" y1="537.50" x2="145.50" y2="537.50" stroke="#231f20" stroke-width="1.0"/>
<text x="138.30" y="541.04" font-size="9" text-anchor="end" fill="#231f20" >0.015</text>
<line x1="142.50" y1="568.50" x2="145.50" y2="568.50" stroke="#231f20" stroke-width="1.0"/>
<text x="138.30" y="571.94" font-size="9" text-anchor="end" fill="#231f20" >0.010</text>
<line x1="142.50" y1="599.50" x2="145.50" y2="599.50" stroke="#231f20" stroke-width="1.0"/>
<text x="138.30" y="602.84" font-size="9" text-anchor="end" fill="#231f20" >0.005</text>
<line x1="142.50" y1="630.50" x2="145.50" y2="630.50" stroke="#231f20" stroke-width="1.0"/>
<text x="138.30" y="633.74" font-size="9" text-anchor="end" fill="#231f20" >0.000</text>
<line x1="143.00" y1="630.50" x2="180.30" y2="630.50" stroke="#231f20" stroke-width="1.1"/>
<line x1="150.60" y1="565.61" x2="150.60" y2="578.47" stroke="#c42a48" stroke-width="0.95"/>
<line x1="149.20" y1="565.61" x2="152.00" y2="565.61" stroke="#9a1030" stroke-width="1.3"/>
<rect x="148.10" y="577.97" width="5.00" height="52.53" fill="#c40424"/>
<line x1="158.73" y1="608.25" x2="158.73" y2="612.46" stroke="#f09a30" stroke-width="0.95"/>
<line x1="157.33" y1="608.25" x2="160.13" y2="608.25" stroke="#d08020" stroke-width="1.3"/>
<rect x="156.23" y="611.96" width="5.00" height="18.54" fill="#f08c00"/>
<line x1="166.86" y1="583.53" x2="166.86" y2="592.07" stroke="#40a4d8" stroke-width="0.95"/>
<line x1="165.46" y1="583.53" x2="168.26" y2="583.53" stroke="#2a88c0" stroke-width="1.3"/>
<rect x="164.36" y="591.57" width="5.00" height="38.93" fill="#38a6e2"/>
<line x1="174.99" y1="610.72" x2="174.99" y2="614.93" stroke="#5e2a62" stroke-width="0.95"/>
<line x1="173.59" y1="610.72" x2="176.39" y2="610.72" stroke="#4a1850" stroke-width="1.3"/>
<rect x="172.49" y="614.43" width="5.00" height="16.07" fill="#5e1d63"/>
<circle cx="156.53" cy="599.50" r="1.05" fill="#2a2a2a"/>
<circle cx="159.93" cy="599.50" r="1.05" fill="#2a2a2a"/>
<circle cx="174.49" cy="598.00" r="1.05" fill="#2a2a2a"/>
<line x1="227.50" y1="535.00" x2="227.50" y2="631.00" stroke="#231f20" stroke-width="1.05"/>
<line x1="224.50" y1="537.50" x2="227.50" y2="537.50" stroke="#231f20" stroke-width="1.0"/>
<text x="220.30" y="541.04" font-size="9" text-anchor="end" fill="#231f20" >0.25</text>
<line x1="224.50" y1="556.50" x2="227.50" y2="556.50" stroke="#231f20" stroke-width="1.0"/>
<text x="220.30" y="559.58" font-size="9" text-anchor="end" fill="#231f20" >0.20</text>
<line x1="224.50" y1="574.50" x2="227.50" y2="574.50" stroke="#231f20" stroke-width="1.0"/>
<text x="220.30" y="578.12" font-size="9" text-anchor="end" fill="#231f20" >0.15</text>
<line x1="224.50" y1="593.50" x2="227.50" y2="593.50" stroke="#231f20" stroke-width="1.0"/>
<text x="220.30" y="596.66" font-size="9" text-anchor="end" fill="#231f20" >0.10</text>
<line x1="224.50" y1="611.50" x2="227.50" y2="611.50" stroke="#231f20" stroke-width="1.0"/>
<text x="220.30" y="615.20" font-size="9" text-anchor="end" fill="#231f20" >0.05</text>
<line x1="224.50" y1="630.50" x2="227.50" y2="630.50" stroke="#231f20" stroke-width="1.0"/>
<text x="220.30" y="633.74" font-size="9" text-anchor="end" fill="#231f20" >0.00</text>
<line x1="225.00" y1="630.50" x2="262.30" y2="630.50" stroke="#231f20" stroke-width="1.1"/>
<line x1="232.60" y1="579.70" x2="232.60" y2="588.36" stroke="#c42a48" stroke-width="0.95"/>
<line x1="231.20" y1="579.70" x2="234.00" y2="579.70" stroke="#9a1030" stroke-width="1.3"/>
<rect x="230.10" y="587.86" width="5.00" height="42.64" fill="#c40424"/>
<line x1="240.73" y1="576.36" x2="240.73" y2="584.28" stroke="#f09a30" stroke-width="0.95"/>
<line x1="239.33" y1="576.36" x2="242.13" y2="576.36" stroke="#d08020" stroke-width="1.3"/>
<rect x="238.23" y="583.78" width="5.00" height="46.72" fill="#f08c00"/>
<line x1="248.86" y1="571.54" x2="248.86" y2="577.23" stroke="#40a4d8" stroke-width="0.95"/>
<line x1="247.46" y1="571.54" x2="250.26" y2="571.54" stroke="#2a88c0" stroke-width="1.3"/>
<rect x="246.36" y="576.73" width="5.00" height="53.77" fill="#38a6e2"/>
<line x1="256.99" y1="556.71" x2="256.99" y2="566.48" stroke="#5e2a62" stroke-width="0.95"/>
<line x1="255.59" y1="556.71" x2="258.39" y2="556.71" stroke="#4a1850" stroke-width="1.3"/>
<rect x="254.49" y="565.98" width="5.00" height="64.52" fill="#5e1d63"/>
<circle cx="256.49" cy="549.60" r="1.05" fill="#2a2a2a"/>
<line x1="308.50" y1="535.00" x2="308.50" y2="631.00" stroke="#231f20" stroke-width="1.05"/>
<line x1="305.50" y1="537.50" x2="308.50" y2="537.50" stroke="#231f20" stroke-width="1.0"/>
<text x="301.30" y="541.04" font-size="9" text-anchor="end" fill="#231f20" >0.06</text>
<line x1="305.50" y1="568.50" x2="308.50" y2="568.50" stroke="#231f20" stroke-width="1.0"/>
<text x="301.30" y="571.94" font-size="9" text-anchor="end" fill="#231f20" >0.04</text>
<line x1="305.50" y1="599.50" x2="308.50" y2="599.50" stroke="#231f20" stroke-width="1.0"/>
<text x="301.30" y="602.84" font-size="9" text-anchor="end" fill="#231f20" >0.02</text>
<line x1="305.50" y1="630.50" x2="308.50" y2="630.50" stroke="#231f20" stroke-width="1.0"/>
<text x="301.30" y="633.74" font-size="9" text-anchor="end" fill="#231f20" >0.00</text>
<line x1="306.00" y1="630.50" x2="343.30" y2="630.50" stroke="#231f20" stroke-width="1.1"/>
<line x1="313.60" y1="584.15" x2="313.60" y2="589.59" stroke="#c42a48" stroke-width="0.95"/>
<line x1="312.20" y1="584.15" x2="315.00" y2="584.15" stroke="#9a1030" stroke-width="1.3"/>
<rect x="311.10" y="589.09" width="5.00" height="41.41" fill="#c40424"/>
<line x1="321.73" y1="584.77" x2="321.73" y2="588.82" stroke="#f09a30" stroke-width="0.95"/>
<line x1="320.33" y1="584.77" x2="323.13" y2="584.77" stroke="#d08020" stroke-width="1.3"/>
<rect x="319.23" y="588.32" width="5.00" height="42.18" fill="#f08c00"/>
<line x1="329.86" y1="552.79" x2="329.86" y2="560.08" stroke="#40a4d8" stroke-width="0.95"/>
<line x1="328.46" y1="552.79" x2="331.26" y2="552.79" stroke="#2a88c0" stroke-width="1.3"/>
<rect x="327.36" y="559.58" width="5.00" height="70.92" fill="#38a6e2"/>
<line x1="337.99" y1="577.97" x2="337.99" y2="583.41" stroke="#5e2a62" stroke-width="0.95"/>
<line x1="336.59" y1="577.97" x2="339.39" y2="577.97" stroke="#4a1850" stroke-width="1.3"/>
<rect x="335.49" y="582.91" width="5.00" height="47.59" fill="#5e1d63"/>
<circle cx="325.96" cy="547.00" r="1.05" fill="#2a2a2a"/>
<circle cx="329.36" cy="547.00" r="1.05" fill="#2a2a2a"/>
<circle cx="332.76" cy="547.00" r="1.05" fill="#2a2a2a"/>
<line x1="393.50" y1="535.00" x2="393.50" y2="631.00" stroke="#231f20" stroke-width="1.05"/>
<line x1="390.50" y1="537.50" x2="393.50" y2="537.50" stroke="#231f20" stroke-width="1.0"/>
<text x="386.50" y="541.04" font-size="9" text-anchor="end" fill="#231f20" >0.08</text>
<line x1="390.50" y1="560.50" x2="393.50" y2="560.50" stroke="#231f20" stroke-width="1.0"/>
<text x="386.50" y="564.22" font-size="9" text-anchor="end" fill="#231f20" >0.06</text>
<line x1="390.50" y1="584.50" x2="393.50" y2="584.50" stroke="#231f20" stroke-width="1.0"/>
<text x="386.50" y="587.39" font-size="9" text-anchor="end" fill="#231f20" >0.04</text>
<line x1="390.50" y1="607.50" x2="393.50" y2="607.50" stroke="#231f20" stroke-width="1.0"/>
<text x="386.50" y="610.57" font-size="9" text-anchor="end" fill="#231f20" >0.02</text>
<line x1="390.50" y1="630.50" x2="393.50" y2="630.50" stroke="#231f20" stroke-width="1.0"/>
<text x="386.50" y="633.74" font-size="9" text-anchor="end" fill="#231f20" >0.00</text>
<line x1="391.00" y1="630.50" x2="428.50" y2="630.50" stroke="#231f20" stroke-width="1.1"/>
<line x1="398.80" y1="584.15" x2="398.80" y2="594.50" stroke="#c42a48" stroke-width="0.95"/>
<line x1="397.40" y1="584.15" x2="400.20" y2="584.15" stroke="#9a1030" stroke-width="1.3"/>
<rect x="396.30" y="594.00" width="5.00" height="36.50" fill="#c40424"/>
<line x1="406.93" y1="608.95" x2="406.93" y2="612.34" stroke="#f09a30" stroke-width="0.95"/>
<line x1="405.53" y1="608.95" x2="408.33" y2="608.95" stroke="#d08020" stroke-width="1.3"/>
<rect x="404.43" y="611.84" width="5.00" height="18.66" fill="#f08c00"/>
<line x1="415.06" y1="560.98" x2="415.06" y2="576.77" stroke="#40a4d8" stroke-width="0.95"/>
<line x1="413.66" y1="560.98" x2="416.46" y2="560.98" stroke="#2a88c0" stroke-width="1.3"/>
<rect x="412.56" y="576.27" width="5.00" height="54.23" fill="#38a6e2"/>
<line x1="423.19" y1="602.34" x2="423.19" y2="607.01" stroke="#5e2a62" stroke-width="0.95"/>
<line x1="421.79" y1="602.34" x2="424.59" y2="602.34" stroke="#4a1850" stroke-width="1.3"/>
<rect x="420.69" y="606.51" width="5.00" height="23.99" fill="#5e1d63"/>
<line x1="476.50" y1="535.00" x2="476.50" y2="631.00" stroke="#231f20" stroke-width="1.05"/>
<line x1="473.50" y1="537.50" x2="476.50" y2="537.50" stroke="#231f20" stroke-width="1.0"/>
<text x="469.60" y="541.04" font-size="9" text-anchor="end" fill="#231f20" >0.20</text>
<line x1="473.50" y1="560.50" x2="476.50" y2="560.50" stroke="#231f20" stroke-width="1.0"/>
<text x="469.60" y="564.21" font-size="9" text-anchor="end" fill="#231f20" >0.15</text>
<line x1="473.50" y1="584.50" x2="476.50" y2="584.50" stroke="#231f20" stroke-width="1.0"/>
<text x="469.60" y="587.39" font-size="9" text-anchor="end" fill="#231f20" >0.10</text>
<line x1="473.50" y1="607.50" x2="476.50" y2="607.50" stroke="#231f20" stroke-width="1.0"/>
<text x="469.60" y="610.57" font-size="9" text-anchor="end" fill="#231f20" >0.05</text>
<line x1="473.50" y1="630.50" x2="476.50" y2="630.50" stroke="#231f20" stroke-width="1.0"/>
<text x="469.60" y="633.74" font-size="9" text-anchor="end" fill="#231f20" >0.00</text>
<line x1="474.00" y1="630.50" x2="511.60" y2="630.50" stroke="#231f20" stroke-width="1.1"/>
<line x1="481.90" y1="584.15" x2="481.90" y2="592.99" stroke="#c42a48" stroke-width="0.95"/>
<line x1="480.50" y1="584.15" x2="483.30" y2="584.15" stroke="#9a1030" stroke-width="1.3"/>
<rect x="479.40" y="592.49" width="5.00" height="38.01" fill="#c40424"/>
<line x1="490.03" y1="587.86" x2="490.03" y2="595.31" stroke="#f09a30" stroke-width="0.95"/>
<line x1="488.63" y1="587.86" x2="491.43" y2="587.86" stroke="#d08020" stroke-width="1.3"/>
<rect x="487.53" y="594.81" width="5.00" height="35.69" fill="#f08c00"/>
<line x1="498.16" y1="554.02" x2="498.16" y2="561.47" stroke="#40a4d8" stroke-width="0.95"/>
<line x1="496.76" y1="554.02" x2="499.56" y2="554.02" stroke="#2a88c0" stroke-width="1.3"/>
<rect x="495.66" y="560.97" width="5.00" height="69.53" fill="#38a6e2"/>
<line x1="506.29" y1="576.73" x2="506.29" y2="585.58" stroke="#5e2a62" stroke-width="0.95"/>
<line x1="504.89" y1="576.73" x2="507.69" y2="576.73" stroke="#4a1850" stroke-width="1.3"/>
<rect x="503.79" y="585.08" width="5.00" height="45.42" fill="#5e1d63"/>
<circle cx="495.96" cy="547.00" r="1.05" fill="#2a2a2a"/>
<circle cx="499.36" cy="547.00" r="1.05" fill="#2a2a2a"/>
<line x1="56.50" y1="649.10" x2="56.50" y2="744.90" stroke="#231f20" stroke-width="1.05"/>
<line x1="53.50" y1="651.50" x2="56.50" y2="651.50" stroke="#231f20" stroke-width="1.0"/>
<text x="49.70" y="655.14" font-size="9" text-anchor="end" fill="#231f20" >100</text>
<line x1="53.50" y1="670.50" x2="56.50" y2="670.50" stroke="#231f20" stroke-width="1.0"/>
<text x="49.70" y="673.64" font-size="9" text-anchor="end" fill="#231f20" >80</text>
<line x1="53.50" y1="688.50" x2="56.50" y2="688.50" stroke="#231f20" stroke-width="1.0"/>
<text x="49.70" y="692.14" font-size="9" text-anchor="end" fill="#231f20" >60</text>
<line x1="53.50" y1="707.50" x2="56.50" y2="707.50" stroke="#231f20" stroke-width="1.0"/>
<text x="49.70" y="710.64" font-size="9" text-anchor="end" fill="#231f20" >40</text>
<line x1="53.50" y1="725.50" x2="56.50" y2="725.50" stroke="#231f20" stroke-width="1.0"/>
<text x="49.70" y="729.14" font-size="9" text-anchor="end" fill="#231f20" >20</text>
<line x1="53.50" y1="744.50" x2="56.50" y2="744.50" stroke="#231f20" stroke-width="1.0"/>
<text x="49.70" y="747.64" font-size="9" text-anchor="end" fill="#231f20" >0</text>
<line x1="54.00" y1="744.50" x2="91.70" y2="744.50" stroke="#231f20" stroke-width="1.1"/>
<line x1="62.00" y1="675.02" x2="62.00" y2="685.70" stroke="#c42a48" stroke-width="0.95"/>
<line x1="60.60" y1="675.02" x2="63.40" y2="675.02" stroke="#9a1030" stroke-width="1.3"/>
<rect x="59.50" y="685.20" width="5.00" height="59.20" fill="#c40424"/>
<line x1="78.26" y1="675.95" x2="78.26" y2="691.25" stroke="#40a4d8" stroke-width="0.95"/>
<line x1="76.86" y1="675.95" x2="79.66" y2="675.95" stroke="#2a88c0" stroke-width="1.3"/>
<rect x="75.76" y="690.75" width="5.00" height="53.65" fill="#38a6e2"/>
<text x="70.70" y="739.80" font-size="7.8" text-anchor="middle" fill="#231f20" >n.a.</text>
<text x="87.50" y="739.80" font-size="7.8" text-anchor="middle" fill="#231f20" >n.a.</text>
<line x1="145.50" y1="649.10" x2="145.50" y2="744.90" stroke="#231f20" stroke-width="1.05"/>
<line x1="142.50" y1="651.50" x2="145.50" y2="651.50" stroke="#231f20" stroke-width="1.0"/>
<text x="138.30" y="655.14" font-size="9" text-anchor="end" fill="#231f20" >100</text>
<line x1="142.50" y1="670.50" x2="145.50" y2="670.50" stroke="#231f20" stroke-width="1.0"/>
<text x="138.30" y="673.64" font-size="9" text-anchor="end" fill="#231f20" >80</text>
<line x1="142.50" y1="688.50" x2="145.50" y2="688.50" stroke="#231f20" stroke-width="1.0"/>
<text x="138.30" y="692.14" font-size="9" text-anchor="end" fill="#231f20" >60</text>
<line x1="142.50" y1="707.50" x2="145.50" y2="707.50" stroke="#231f20" stroke-width="1.0"/>
<text x="138.30" y="710.64" font-size="9" text-anchor="end" fill="#231f20" >40</text>
<line x1="142.50" y1="725.50" x2="145.50" y2="725.50" stroke="#231f20" stroke-width="1.0"/>
<text x="138.30" y="729.14" font-size="9" text-anchor="end" fill="#231f20" >20</text>
<line x1="142.50" y1="744.50" x2="145.50" y2="744.50" stroke="#231f20" stroke-width="1.0"/>
<text x="138.30" y="747.64" font-size="9" text-anchor="end" fill="#231f20" >0</text>
<line x1="143.00" y1="744.50" x2="180.30" y2="744.50" stroke="#231f20" stroke-width="1.1"/>
<line x1="150.60" y1="669.48" x2="150.60" y2="677.38" stroke="#c42a48" stroke-width="0.95"/>
<line x1="149.20" y1="669.48" x2="152.00" y2="669.48" stroke="#9a1030" stroke-width="1.3"/>
<rect x="148.10" y="676.88" width="5.00" height="67.53" fill="#c40424"/>
<line x1="158.73" y1="681.50" x2="158.73" y2="688.94" stroke="#f09a30" stroke-width="0.95"/>
<line x1="157.33" y1="681.50" x2="160.13" y2="681.50" stroke="#d08020" stroke-width="1.3"/>
<rect x="156.23" y="688.44" width="5.00" height="55.96" fill="#f08c00"/>
<line x1="166.86" y1="672.25" x2="166.86" y2="679.23" stroke="#40a4d8" stroke-width="0.95"/>
<line x1="165.46" y1="672.25" x2="168.26" y2="672.25" stroke="#2a88c0" stroke-width="1.3"/>
<rect x="164.36" y="678.73" width="5.00" height="65.67" fill="#38a6e2"/>
<line x1="174.99" y1="668.55" x2="174.99" y2="676.91" stroke="#5e2a62" stroke-width="0.95"/>
<line x1="173.59" y1="668.55" x2="176.39" y2="668.55" stroke="#4a1850" stroke-width="1.3"/>
<rect x="172.49" y="676.41" width="5.00" height="67.99" fill="#5e1d63"/>
<line x1="227.50" y1="649.10" x2="227.50" y2="744.90" stroke="#231f20" stroke-width="1.05"/>
<line x1="224.50" y1="651.50" x2="227.50" y2="651.50" stroke="#231f20" stroke-width="1.0"/>
<text x="220.30" y="655.14" font-size="9" text-anchor="end" fill="#231f20" >100</text>
<line x1="224.50" y1="670.50" x2="227.50" y2="670.50" stroke="#231f20" stroke-width="1.0"/>
<text x="220.30" y="673.64" font-size="9" text-anchor="end" fill="#231f20" >80</text>
<line x1="224.50" y1="688.50" x2="227.50" y2="688.50" stroke="#231f20" stroke-width="1.0"/>
<text x="220.30" y="692.14" font-size="9" text-anchor="end" fill="#231f20" >60</text>
<line x1="224.50" y1="707.50" x2="227.50" y2="707.50" stroke="#231f20" stroke-width="1.0"/>
<text x="220.30" y="710.64" font-size="9" text-anchor="end" fill="#231f20" >40</text>
<line x1="224.50" y1="725.50" x2="227.50" y2="725.50" stroke="#231f20" stroke-width="1.0"/>
<text x="220.30" y="729.14" font-size="9" text-anchor="end" fill="#231f20" >20</text>
<line x1="224.50" y1="744.50" x2="227.50" y2="744.50" stroke="#231f20" stroke-width="1.0"/>
<text x="220.30" y="747.64" font-size="9" text-anchor="end" fill="#231f20" >0</text>
<line x1="225.00" y1="744.50" x2="262.30" y2="744.50" stroke="#231f20" stroke-width="1.1"/>
<line x1="232.60" y1="661.15" x2="232.60" y2="666.74" stroke="#c42a48" stroke-width="0.95"/>
<line x1="231.20" y1="661.15" x2="234.00" y2="661.15" stroke="#9a1030" stroke-width="1.3"/>
<rect x="230.10" y="666.24" width="5.00" height="78.16" fill="#c40424"/>
<line x1="240.73" y1="668.09" x2="240.73" y2="676.45" stroke="#f09a30" stroke-width="0.95"/>
<line x1="239.33" y1="668.09" x2="242.13" y2="668.09" stroke="#d08020" stroke-width="1.3"/>
<rect x="238.23" y="675.95" width="5.00" height="68.45" fill="#f08c00"/>
<line x1="248.86" y1="659.76" x2="248.86" y2="664.89" stroke="#40a4d8" stroke-width="0.95"/>
<line x1="247.46" y1="659.76" x2="250.26" y2="659.76" stroke="#2a88c0" stroke-width="1.3"/>
<rect x="246.36" y="664.39" width="5.00" height="80.01" fill="#38a6e2"/>
<line x1="256.99" y1="666.24" x2="256.99" y2="673.67" stroke="#5e2a62" stroke-width="0.95"/>
<line x1="255.59" y1="666.24" x2="258.39" y2="666.24" stroke="#4a1850" stroke-width="1.3"/>
<rect x="254.49" y="673.17" width="5.00" height="71.23" fill="#5e1d63"/>
<line x1="308.50" y1="649.10" x2="308.50" y2="744.90" stroke="#231f20" stroke-width="1.05"/>
<line x1="305.50" y1="651.50" x2="308.50" y2="651.50" stroke="#231f20" stroke-width="1.0"/>
<text x="301.30" y="655.14" font-size="9" text-anchor="end" fill="#231f20" >100</text>
<line x1="305.50" y1="670.50" x2="308.50" y2="670.50" stroke="#231f20" stroke-width="1.0"/>
<text x="301.30" y="673.64" font-size="9" text-anchor="end" fill="#231f20" >80</text>
<line x1="305.50" y1="688.50" x2="308.50" y2="688.50" stroke="#231f20" stroke-width="1.0"/>
<text x="301.30" y="692.14" font-size="9" text-anchor="end" fill="#231f20" >60</text>
<line x1="305.50" y1="707.50" x2="308.50" y2="707.50" stroke="#231f20" stroke-width="1.0"/>
<text x="301.30" y="710.64" font-size="9" text-anchor="end" fill="#231f20" >40</text>
<line x1="305.50" y1="725.50" x2="308.50" y2="725.50" stroke="#231f20" stroke-width="1.0"/>
<text x="301.30" y="729.14" font-size="9" text-anchor="end" fill="#231f20" >20</text>
<line x1="305.50" y1="744.50" x2="308.50" y2="744.50" stroke="#231f20" stroke-width="1.0"/>
<text x="301.30" y="747.64" font-size="9" text-anchor="end" fill="#231f20" >0</text>
<line x1="306.00" y1="744.50" x2="343.30" y2="744.50" stroke="#231f20" stroke-width="1.1"/>
<line x1="313.60" y1="659.30" x2="313.60" y2="663.50" stroke="#c42a48" stroke-width="0.95"/>
<line x1="312.20" y1="659.30" x2="315.00" y2="659.30" stroke="#9a1030" stroke-width="1.3"/>
<rect x="311.10" y="663.00" width="5.00" height="81.40" fill="#c40424"/>
<line x1="321.73" y1="665.31" x2="321.73" y2="671.82" stroke="#f09a30" stroke-width="0.95"/>
<line x1="320.33" y1="665.31" x2="323.13" y2="665.31" stroke="#d08020" stroke-width="1.3"/>
<rect x="319.23" y="671.32" width="5.00" height="73.08" fill="#f08c00"/>
<line x1="329.86" y1="659.76" x2="329.86" y2="663.96" stroke="#40a4d8" stroke-width="0.95"/>
<line x1="328.46" y1="659.76" x2="331.26" y2="659.76" stroke="#2a88c0" stroke-width="1.3"/>
<rect x="327.36" y="663.46" width="5.00" height="80.94" fill="#38a6e2"/>
<line x1="337.99" y1="662.07" x2="337.99" y2="668.12" stroke="#5e2a62" stroke-width="0.95"/>
<line x1="336.59" y1="662.07" x2="339.39" y2="662.07" stroke="#4a1850" stroke-width="1.3"/>
<rect x="335.49" y="667.62" width="5.00" height="76.78" fill="#5e1d63"/>
<line x1="393.50" y1="649.10" x2="393.50" y2="744.90" stroke="#231f20" stroke-width="1.05"/>
<line x1="390.50" y1="651.50" x2="393.50" y2="651.50" stroke="#231f20" stroke-width="1.0"/>
<text x="386.50" y="655.14" font-size="9" text-anchor="end" fill="#231f20" >100</text>
<line x1="390.50" y1="670.50" x2="393.50" y2="670.50" stroke="#231f20" stroke-width="1.0"/>
<text x="386.50" y="673.64" font-size="9" text-anchor="end" fill="#231f20" >80</text>
<line x1="390.50" y1="688.50" x2="393.50" y2="688.50" stroke="#231f20" stroke-width="1.0"/>
<text x="386.50" y="692.14" font-size="9" text-anchor="end" fill="#231f20" >60</text>
<line x1="390.50" y1="707.50" x2="393.50" y2="707.50" stroke="#231f20" stroke-width="1.0"/>
<text x="386.50" y="710.64" font-size="9" text-anchor="end" fill="#231f20" >40</text>
<line x1="390.50" y1="725.50" x2="393.50" y2="725.50" stroke="#231f20" stroke-width="1.0"/>
<text x="386.50" y="729.14" font-size="9" text-anchor="end" fill="#231f20" >20</text>
<line x1="390.50" y1="744.50" x2="393.50" y2="744.50" stroke="#231f20" stroke-width="1.0"/>
<text x="386.50" y="747.64" font-size="9" text-anchor="end" fill="#231f20" >0</text>
<line x1="391.00" y1="744.50" x2="428.50" y2="744.50" stroke="#231f20" stroke-width="1.1"/>
<line x1="398.80" y1="661.61" x2="398.80" y2="666.27" stroke="#c42a48" stroke-width="0.95"/>
<line x1="397.40" y1="661.61" x2="400.20" y2="661.61" stroke="#9a1030" stroke-width="1.3"/>
<rect x="396.30" y="665.77" width="5.00" height="78.62" fill="#c40424"/>
<line x1="406.93" y1="665.31" x2="406.93" y2="672.29" stroke="#f09a30" stroke-width="0.95"/>
<line x1="405.53" y1="665.31" x2="408.33" y2="665.31" stroke="#d08020" stroke-width="1.3"/>
<rect x="404.43" y="671.79" width="5.00" height="72.61" fill="#f08c00"/>
<line x1="415.06" y1="662.54" x2="415.06" y2="667.20" stroke="#40a4d8" stroke-width="0.95"/>
<line x1="413.66" y1="662.54" x2="416.46" y2="662.54" stroke="#2a88c0" stroke-width="1.3"/>
<rect x="412.56" y="666.70" width="5.00" height="77.70" fill="#38a6e2"/>
<line x1="423.19" y1="664.39" x2="423.19" y2="670.90" stroke="#5e2a62" stroke-width="0.95"/>
<line x1="421.79" y1="664.39" x2="424.59" y2="664.39" stroke="#4a1850" stroke-width="1.3"/>
<rect x="420.69" y="670.40" width="5.00" height="74.00" fill="#5e1d63"/>
<line x1="476.50" y1="649.10" x2="476.50" y2="744.90" stroke="#231f20" stroke-width="1.05"/>
<line x1="473.50" y1="651.50" x2="476.50" y2="651.50" stroke="#231f20" stroke-width="1.0"/>
<text x="469.60" y="655.14" font-size="9" text-anchor="end" fill="#231f20" >100</text>
<line x1="473.50" y1="670.50" x2="476.50" y2="670.50" stroke="#231f20" stroke-width="1.0"/>
<text x="469.60" y="673.64" font-size="9" text-anchor="end" fill="#231f20" >80</text>
<line x1="473.50" y1="688.50" x2="476.50" y2="688.50" stroke="#231f20" stroke-width="1.0"/>
<text x="469.60" y="692.14" font-size="9" text-anchor="end" fill="#231f20" >60</text>
<line x1="473.50" y1="707.50" x2="476.50" y2="707.50" stroke="#231f20" stroke-width="1.0"/>
<text x="469.60" y="710.64" font-size="9" text-anchor="end" fill="#231f20" >40</text>
<line x1="473.50" y1="725.50" x2="476.50" y2="725.50" stroke="#231f20" stroke-width="1.0"/>
<text x="469.60" y="729.14" font-size="9" text-anchor="end" fill="#231f20" >20</text>
<line x1="473.50" y1="744.50" x2="476.50" y2="744.50" stroke="#231f20" stroke-width="1.0"/>
<text x="469.60" y="747.64" font-size="9" text-anchor="end" fill="#231f20" >0</text>
<line x1="474.00" y1="744.50" x2="511.60" y2="744.50" stroke="#231f20" stroke-width="1.1"/>
<line x1="481.90" y1="652.82" x2="481.90" y2="653.79" stroke="#c42a48" stroke-width="0.95"/>
<line x1="480.50" y1="652.82" x2="483.30" y2="652.82" stroke="#9a1030" stroke-width="1.3"/>
<rect x="479.40" y="653.29" width="5.00" height="91.11" fill="#c40424"/>
<line x1="490.03" y1="652.36" x2="490.03" y2="657.95" stroke="#f09a30" stroke-width="0.95"/>
<line x1="488.63" y1="652.36" x2="491.43" y2="652.36" stroke="#d08020" stroke-width="1.3"/>
<rect x="487.53" y="657.45" width="5.00" height="86.95" fill="#f08c00"/>
<line x1="498.16" y1="652.82" x2="498.16" y2="653.79" stroke="#40a4d8" stroke-width="0.95"/>
<line x1="496.76" y1="652.82" x2="499.56" y2="652.82" stroke="#2a88c0" stroke-width="1.3"/>
<rect x="495.66" y="653.29" width="5.00" height="91.11" fill="#38a6e2"/>
<line x1="506.29" y1="655.14" x2="506.29" y2="658.41" stroke="#5e2a62" stroke-width="0.95"/>
<line x1="504.89" y1="655.14" x2="507.69" y2="655.14" stroke="#4a1850" stroke-width="1.3"/>
<rect x="503.79" y="657.91" width="5.00" height="86.49" fill="#5e1d63"/>
<text x="0" y="0" font-size="10" stroke="#231f20" stroke-width="0.22" text-anchor="middle" fill="#231f20" textLength="45.4" lengthAdjust="spacingAndGlyphs" transform="translate(22.10,317.40) rotate(-90)">% of BM cells</text>
<text x="0" y="0" font-size="10" stroke="#231f20" stroke-width="0.22" text-anchor="middle" fill="#231f20" textLength="22.7" lengthAdjust="spacingAndGlyphs" transform="translate(22.10,431.20) rotate(-90)">% GFP</text>
<text x="0" y="0" font-size="10" stroke="#231f20" stroke-width="0.22" text-anchor="middle" fill="#231f20" textLength="55.5" lengthAdjust="spacingAndGlyphs" transform="translate(16.70,582.20) rotate(-90)">% of spleen cells</text>
<text x="0" y="0" font-size="10" stroke="#231f20" stroke-width="0.22" text-anchor="middle" fill="#231f20" textLength="22.5" lengthAdjust="spacingAndGlyphs" transform="translate(16.60,696.60) rotate(-90)">% GFP</text>
</svg></body></html>
